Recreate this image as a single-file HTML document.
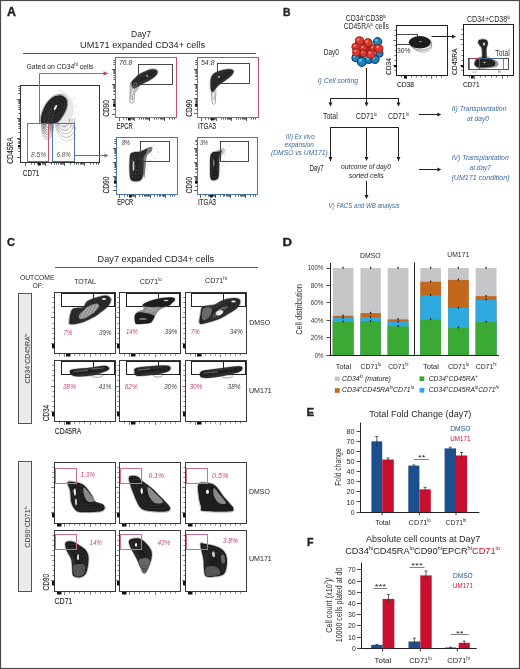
<!DOCTYPE html>
<html><head><meta charset="utf-8"><style>
html,body{margin:0;padding:0;background:#fff;}
body{width:520px;height:669px;overflow:hidden;}
svg{display:block;font-family:"Liberation Sans", sans-serif;filter:blur(0.35px);}
</style></head><body>
<svg width="520" height="669" viewBox="0 0 520 669">
<rect x="0" y="0" width="520" height="669" fill="#fff"/>
<text x="7" y="15.6" font-size="12" font-weight="bold" textLength="9" lengthAdjust="spacingAndGlyphs" fill="#231f20" stroke="#231f20" stroke-width="0.35" >A</text>
<text x="131" y="37" font-size="9.2" textLength="20" lengthAdjust="spacingAndGlyphs" fill="#231f20" >Day7</text>
<text x="80" y="48" font-size="9.2" textLength="125" lengthAdjust="spacingAndGlyphs" fill="#231f20" >UM171 expanded CD34+ cells</text>
<line x1="23" y1="53.5" x2="256" y2="53.5" stroke="#444" stroke-width="0.9"/>
<text x="26.5" y="69.2" font-size="7" textLength="67" lengthAdjust="spacingAndGlyphs" fill="#231f20" >Gated on CD34<tspan dy="-3" font-size="4.5">hi</tspan><tspan dy="3"> cells</tspan></text>
<rect x="20.5" y="85.5" width="79.0" height="77.0" fill="none" stroke="#333" stroke-width="1"/>
<path d="M17.0,157.5h3M18.4,151.5h1.6M18.4,148.5h1.6M18.4,145.5h1.6M18.4,143.5h1.6M18.4,142.5h1.6M18.4,141.5h1.6M18.4,139.5h1.6M18.4,139.5h1.6M17.0,138.5h3M18.4,132.5h1.6M18.4,128.5h1.6M18.4,126.5h1.6M18.4,124.5h1.6M18.4,123.5h1.6M18.4,121.5h1.6M18.4,120.5h1.6M18.4,119.5h1.6M17.0,118.5h3M18.4,113.5h1.6M18.4,109.5h1.6M18.4,107.5h1.6M18.4,105.5h1.6M18.4,103.5h1.6M18.4,102.5h1.6M18.4,101.5h1.6M18.4,100.5h1.6M17.0,99.5h3M18.4,93.5h1.6M18.4,90.5h1.6M18.4,88.5h1.6M18.4,86.5h1.6M25.5,163.0v3M31.5,163.0v1.6M34.5,163.0v1.6M37.5,163.0v1.6M39.5,163.0v1.6M40.5,163.0v1.6M42.5,163.0v1.6M43.5,163.0v1.6M44.5,163.0v1.6M45.5,163.0v3M51.5,163.0v1.6M54.5,163.0v1.6M56.5,163.0v1.6M58.5,163.0v1.6M60.5,163.0v1.6M61.5,163.0v1.6M62.5,163.0v1.6M63.5,163.0v1.6M64.5,163.0v3M70.5,163.0v1.6M74.5,163.0v1.6M76.5,163.0v1.6M78.5,163.0v1.6M80.5,163.0v1.6M81.5,163.0v1.6M82.5,163.0v1.6M83.5,163.0v1.6M84.5,163.0v3M90.5,163.0v1.6M93.5,163.0v1.6M96.5,163.0v1.6M98.5,163.0v1.6" fill="none" stroke="#333" stroke-width="0.8" />
<path d="M18.0,145h2.5v2.2h-2.5Z M38,163.0h2.7v2.5h-2.7Z" fill="#111" stroke="none" stroke-width="0.6" />
<circle cx="68" cy="96" r="0.6" fill="#aaa"/>
<circle cx="70" cy="100" r="0.6" fill="#aaa"/>
<circle cx="72" cy="104" r="0.6" fill="#aaa"/>
<circle cx="66" cy="93" r="0.6" fill="#aaa"/>
<circle cx="73" cy="110" r="0.6" fill="#aaa"/>
<circle cx="71" cy="115" r="0.6" fill="#aaa"/>
<circle cx="69" cy="120" r="0.6" fill="#aaa"/>
<circle cx="75" cy="118" r="0.6" fill="#aaa"/>
<circle cx="74" cy="99" r="0.6" fill="#aaa"/>
<circle cx="63" cy="92" r="0.6" fill="#aaa"/>
<circle cx="60" cy="90" r="0.6" fill="#aaa"/>
<circle cx="76" cy="106" r="0.6" fill="#aaa"/>
<circle cx="68" cy="124" r="0.6" fill="#aaa"/>
<circle cx="65" cy="128" r="0.6" fill="#aaa"/>
<circle cx="72" cy="126" r="0.6" fill="#aaa"/>
<circle cx="74" cy="122" r="0.6" fill="#aaa"/>
<circle cx="67" cy="110" r="0.6" fill="#aaa"/>
<circle cx="70" cy="108" r="0.6" fill="#aaa"/>
<path d="M58.00,96.00 C59.00,91.67 63.67,93.33 66.00,94.00 C68.33,94.67 70.67,97.33 72.00,100.00 C73.33,102.67 74.33,106.33 74.00,110.00 C73.67,113.67 71.67,119.00 70.00,122.00 C68.33,125.00 65.67,128.33 64.00,128.00 C62.33,127.67 61.00,125.33 60.00,120.00 C59.00,114.67 57.00,100.33 58.00,96.00 Z" fill="#e8e8e8" stroke="none" stroke-width="0.6" />
<clipPath id="cpA"><rect x="36" y="119" width="40" height="40"/></clipPath><g clip-path="url(#cpA)">
<ellipse cx="47.5" cy="124.5" rx="1.5" ry="3.0" fill="none" stroke="#333" stroke-width="0.5"/>
<ellipse cx="47.5" cy="124.8" rx="2.4" ry="5.1" fill="none" stroke="#333" stroke-width="0.5"/>
<ellipse cx="47.5" cy="125.1" rx="3.3" ry="7.2" fill="none" stroke="#333" stroke-width="0.5"/>
<ellipse cx="47.5" cy="125.4" rx="4.2" ry="9.3" fill="none" stroke="#333" stroke-width="0.5"/>
<ellipse cx="47.5" cy="125.7" rx="5.1" ry="11.4" fill="none" stroke="#666" stroke-width="0.5"/>
<ellipse cx="47.5" cy="126.0" rx="6.0" ry="13.5" fill="none" stroke="#666" stroke-width="0.5"/>
<ellipse cx="64.0" cy="118.0" rx="6.0" ry="9.0" fill="none" stroke="#556" stroke-width="0.5"/>
<ellipse cx="64.8" cy="118.3" rx="7.6" ry="12.2" fill="none" stroke="#556" stroke-width="0.5"/>
<ellipse cx="65.6" cy="118.6" rx="9.2" ry="15.4" fill="none" stroke="#778" stroke-width="0.5"/>
<ellipse cx="66.4" cy="118.9" rx="10.8" ry="18.6" fill="none" stroke="#778" stroke-width="0.5"/>
<ellipse cx="67.2" cy="119.2" rx="12.4" ry="21.8" fill="none" stroke="#aaa" stroke-width="0.5"/>
</g>
<path d="M40.32,123.09 C39.70,121.60 40.32,117.75 40.84,115.21 C41.37,112.67 42.33,110.22 43.47,107.86 C44.60,105.50 46.09,102.96 47.67,101.04 C49.24,99.11 51.03,97.41 52.92,96.31 C54.81,95.21 57.08,94.51 59.01,94.42 C60.93,94.33 63.07,94.95 64.47,95.79 C65.87,96.63 66.88,97.80 67.41,99.46 C67.93,101.12 67.93,103.66 67.62,105.76 C67.30,107.86 66.39,110.14 65.52,112.06 C64.64,113.99 63.42,115.74 62.37,117.31 C61.32,118.89 60.44,120.46 59.22,121.51 C57.99,122.56 56.59,123.17 55.02,123.61 C53.44,124.05 51.52,124.05 49.77,124.14 C48.02,124.22 46.09,124.31 44.52,124.14 C42.94,123.96 40.93,124.57 40.32,123.09 Z" fill="none" stroke="#555" stroke-width="0.5" />
<path d="M41.00,122.50 C40.42,121.08 41.00,117.42 41.50,115.00 C42.00,112.58 42.92,110.25 44.00,108.00 C45.08,105.75 46.50,103.33 48.00,101.50 C49.50,99.67 51.20,98.05 53.00,97.00 C54.80,95.95 56.97,95.28 58.80,95.20 C60.63,95.12 62.67,95.70 64.00,96.50 C65.33,97.30 66.30,98.42 66.80,100.00 C67.30,101.58 67.30,104.00 67.00,106.00 C66.70,108.00 65.83,110.17 65.00,112.00 C64.17,113.83 63.00,115.50 62.00,117.00 C61.00,118.50 60.17,120.00 59.00,121.00 C57.83,122.00 56.50,122.58 55.00,123.00 C53.50,123.42 51.67,123.42 50.00,123.50 C48.33,123.58 46.50,123.67 45.00,123.50 C43.50,123.33 41.58,123.92 41.00,122.50 Z" fill="#232122" stroke="none" stroke-width="0.6" />
<path d="M43.46,120.39 C42.98,119.23 43.46,116.22 43.87,114.24 C44.28,112.26 45.03,110.35 45.92,108.50 C46.81,106.66 47.97,104.67 49.20,103.17 C50.43,101.67 51.83,100.34 53.30,99.48 C54.78,98.62 56.55,98.07 58.06,98.00 C59.56,97.94 61.23,98.41 62.32,99.07 C63.41,99.73 64.21,100.64 64.62,101.94 C65.03,103.24 65.03,105.22 64.78,106.86 C64.54,108.50 63.82,110.28 63.14,111.78 C62.46,113.28 61.50,114.65 60.68,115.88 C59.86,117.11 59.18,118.34 58.22,119.16 C57.26,119.98 56.17,120.46 54.94,120.80 C53.71,121.14 52.21,121.14 50.84,121.21 C49.47,121.28 47.97,121.35 46.74,121.21 C45.51,121.07 43.94,121.55 43.46,120.39 Z" fill="none" stroke="#585858" stroke-width="0.35" />
<path d="M46.20,118.05 C45.83,117.17 46.20,114.89 46.51,113.40 C46.82,111.90 47.38,110.45 48.06,109.06 C48.73,107.66 49.61,106.16 50.54,105.03 C51.47,103.89 52.52,102.89 53.64,102.24 C54.75,101.59 56.10,101.17 57.23,101.12 C58.37,101.07 59.63,101.43 60.46,101.93 C61.28,102.42 61.88,103.11 62.19,104.10 C62.50,105.08 62.50,106.58 62.32,107.82 C62.13,109.06 61.59,110.40 61.08,111.54 C60.56,112.67 59.84,113.71 59.22,114.64 C58.60,115.57 58.08,116.50 57.36,117.12 C56.63,117.74 55.81,118.10 54.88,118.36 C53.95,118.61 52.81,118.61 51.78,118.67 C50.74,118.72 49.61,118.77 48.68,118.67 C47.75,118.56 46.56,118.92 46.20,118.05 Z" fill="none" stroke="#505050" stroke-width="0.35" />
<path d="M48.93,115.70 C48.69,115.11 48.93,113.57 49.14,112.55 C49.35,111.54 49.74,110.56 50.19,109.61 C50.65,108.67 51.24,107.65 51.87,106.88 C52.50,106.11 53.21,105.43 53.97,104.99 C54.73,104.55 55.64,104.27 56.41,104.24 C57.18,104.20 58.03,104.45 58.59,104.78 C59.15,105.12 59.56,105.59 59.77,106.25 C59.98,106.92 59.98,107.93 59.85,108.77 C59.72,109.61 59.36,110.52 59.01,111.29 C58.66,112.06 58.17,112.76 57.75,113.39 C57.33,114.02 56.98,114.65 56.49,115.07 C56.00,115.49 55.44,115.74 54.81,115.91 C54.18,116.09 53.41,116.09 52.71,116.12 C52.01,116.16 51.24,116.19 50.61,116.12 C49.98,116.05 49.18,116.30 48.93,115.70 Z" fill="none" stroke="#555" stroke-width="0.3" />
<ellipse cx="55.5" cy="107.5" rx="1.1" ry="2.8" transform="rotate(25 55.5 107.5)" fill="#fff"/>
<path d="M44.0,122.5 C45.0,117 48.0,112 52,108.0" fill="none" stroke="#666" stroke-width="0.4" />
<path d="M47.5,122.5 C48.5,117 51.5,111 55,106.5" fill="none" stroke="#666" stroke-width="0.4" />
<path d="M51.0,122.5 C52.0,117 55.0,110 58,105.0" fill="none" stroke="#666" stroke-width="0.4" />
<rect x="27.5" y="123.5" width="21.0" height="38.0" fill="none" stroke="#c4506f" stroke-width="1"/>
<rect x="52.5" y="123.5" width="22.0" height="38.0" fill="none" stroke="#4f77a4" stroke-width="1"/>
<text x="31" y="157.4" font-size="6.8" font-style="italic" textLength="15" lengthAdjust="spacingAndGlyphs" fill="#555" >8.5%</text>
<text x="56.5" y="157.4" font-size="6.8" font-style="italic" textLength="14.5" lengthAdjust="spacingAndGlyphs" fill="#555" >6.8%</text>
<polyline points="39.5,123 39.5,73.5 104,73.5" fill="none" stroke="#c4506f" stroke-width="1"/>
<path d="M108.5,73.5 L103.5,71.3 L103.5,75.7 Z" fill="#c4506f" stroke="none" stroke-width="0.6" />
<line x1="74.2" y1="155.5" x2="105.0" y2="155.5" stroke="#4f77a4" stroke-width="1"/>
<path d="M108.5,155.5 L104.5,153.5 L104.5,157.5 Z" fill="#4f77a4" stroke="none" stroke-width="0.6" />
<text transform="translate(12.6,163.8) rotate(-90)" font-size="9" textLength="26.5" lengthAdjust="spacingAndGlyphs" fill="#231f20" stroke="#231f20" stroke-width="0.1" >CD45RA</text>
<text x="22.8" y="176.3" font-size="9.5" textLength="16.6" lengthAdjust="spacingAndGlyphs" fill="#231f20" stroke="#231f20" stroke-width="0.1" >CD71</text>
<rect x="115.5" y="57.5" width="61.0" height="60.0" fill="none" stroke="#c4506f" stroke-width="1"/>
<path d="M112.0,114.5h3M113.4,109.5h1.6M113.4,106.5h1.6M113.4,105.5h1.6M113.4,103.5h1.6M113.4,102.5h1.6M113.4,101.5h1.6M113.4,100.5h1.6M113.4,99.5h1.6M112.0,99.5h3M113.4,94.5h1.6M113.4,91.5h1.6M113.4,90.5h1.6M113.4,88.5h1.6M113.4,87.5h1.6M113.4,86.5h1.6M113.4,85.5h1.6M113.4,84.5h1.6M112.0,84.5h3M113.4,79.5h1.6M113.4,77.5h1.6M113.4,75.5h1.6M113.4,73.5h1.6M113.4,72.5h1.6M113.4,71.5h1.6M113.4,70.5h1.6M113.4,69.5h1.6M112.0,69.5h3M113.4,64.5h1.6M113.4,62.5h1.6M113.4,60.5h1.6M119.5,118.0v3M123.5,118.0v1.6M126.5,118.0v1.6M128.5,118.0v1.6M129.5,118.0v1.6M131.5,118.0v1.6M132.5,118.0v1.6M133.5,118.0v1.6M133.5,118.0v1.6M134.5,118.0v3M139.5,118.0v1.6M141.5,118.0v1.6M143.5,118.0v1.6M145.5,118.0v1.6M146.5,118.0v1.6M147.5,118.0v1.6M148.5,118.0v1.6M149.5,118.0v1.6M149.5,118.0v3M154.5,118.0v1.6M156.5,118.0v1.6M158.5,118.0v1.6M160.5,118.0v1.6M161.5,118.0v1.6M162.5,118.0v1.6M163.5,118.0v1.6M164.5,118.0v1.6M164.5,118.0v3M169.5,118.0v1.6M172.5,118.0v1.6M174.5,118.0v1.6" fill="none" stroke="#333" stroke-width="0.8" />
<path d="M113.0,104h2.5v2.2h-2.5Z M128,118.0h2.7v2.5h-2.7Z" fill="#111" stroke="none" stroke-width="0.6" />
<path d="M130.50,84.00 C131.30,81.83 133.58,79.67 135.00,80.00 C136.42,80.33 139.08,83.67 139.00,86.00 C138.92,88.33 135.37,91.33 134.50,94.00 C133.63,96.67 134.55,100.67 133.80,102.00 C133.05,103.33 130.60,103.50 130.00,102.00 C129.40,100.50 130.12,96.00 130.20,93.00 C130.28,90.00 129.70,86.17 130.50,84.00 Z" fill="none" stroke="#444" stroke-width="0.5" />
<path d="M131.50,86.00 C132.05,84.50 133.58,82.83 134.50,83.00 C135.42,83.17 137.25,85.17 137.00,87.00 C136.75,88.83 133.73,91.83 133.00,94.00 C132.27,96.17 132.93,99.17 132.60,100.00 C132.27,100.83 131.23,100.33 131.00,99.00 C130.77,97.67 131.12,94.17 131.20,92.00 C131.28,89.83 130.95,87.50 131.50,86.00 Z" fill="none" stroke="#444" stroke-width="0.5" />
<path d="M132.50,88.00 C132.70,87.17 133.67,86.67 134.00,87.00 C134.33,87.33 134.70,89.17 134.50,90.00 C134.30,90.83 133.13,92.33 132.80,92.00 C132.47,91.67 132.30,88.83 132.50,88.00 Z" fill="none" stroke="#666" stroke-width="0.4" />
<path d="M131.54,86.30 C131.10,85.26 130.67,83.87 131.02,82.66 C131.36,81.45 132.32,80.41 133.62,79.02 C134.92,77.63 136.91,75.64 138.82,74.34 C140.72,73.04 142.89,72.12 145.06,71.22 C147.22,70.32 149.82,69.19 151.82,68.93 C153.81,68.67 155.98,69.11 157.02,69.66 C158.06,70.22 158.23,71.22 158.06,72.26 C157.88,73.30 157.28,74.60 155.98,75.90 C154.68,77.20 152.42,78.76 150.26,80.06 C148.09,81.36 145.23,82.49 142.98,83.70 C140.72,84.91 138.30,86.47 136.74,87.34 C135.18,88.21 134.48,89.07 133.62,88.90 C132.75,88.73 131.97,87.34 131.54,86.30 Z" fill="none" stroke="#555" stroke-width="0.45" />
<path d="M132.00,86.00 C131.58,85.00 131.17,83.67 131.50,82.50 C131.83,81.33 132.75,80.33 134.00,79.00 C135.25,77.67 137.17,75.75 139.00,74.50 C140.83,73.25 142.92,72.37 145.00,71.50 C147.08,70.63 149.58,69.55 151.50,69.30 C153.42,69.05 155.50,69.47 156.50,70.00 C157.50,70.53 157.67,71.50 157.50,72.50 C157.33,73.50 156.75,74.75 155.50,76.00 C154.25,77.25 152.08,78.75 150.00,80.00 C147.92,81.25 145.17,82.33 143.00,83.50 C140.83,84.67 138.50,86.17 137.00,87.00 C135.50,87.83 134.83,88.67 134.00,88.50 C133.17,88.33 132.42,87.00 132.00,86.00 Z" fill="#222" stroke="none" stroke-width="0.6" />
<path d="M134.08,84.65 C133.74,83.83 133.40,82.73 133.67,81.78 C133.95,80.82 134.70,80.00 135.72,78.91 C136.75,77.81 138.32,76.24 139.82,75.22 C141.33,74.19 143.04,73.47 144.74,72.76 C146.45,72.05 148.50,71.16 150.07,70.95 C151.65,70.75 153.35,71.09 154.17,71.53 C154.99,71.96 155.13,72.76 154.99,73.58 C154.86,74.40 154.38,75.42 153.35,76.45 C152.33,77.47 150.55,78.70 148.84,79.73 C147.14,80.75 144.88,81.64 143.10,82.60 C141.33,83.55 139.41,84.78 138.18,85.47 C136.95,86.15 136.41,86.83 135.72,86.70 C135.04,86.56 134.43,85.47 134.08,84.65 Z" fill="none" stroke="#585858" stroke-width="0.35" />
<path d="M136.40,83.14 C136.14,82.52 135.88,81.70 136.09,80.97 C136.30,80.25 136.86,79.63 137.64,78.80 C138.41,77.98 139.60,76.79 140.74,76.01 C141.88,75.24 143.17,74.69 144.46,74.15 C145.75,73.62 147.30,72.95 148.49,72.79 C149.68,72.64 150.97,72.89 151.59,73.22 C152.21,73.55 152.31,74.15 152.21,74.77 C152.11,75.39 151.74,76.17 150.97,76.94 C150.19,77.72 148.85,78.65 147.56,79.42 C146.27,80.20 144.56,80.87 143.22,81.59 C141.88,82.32 140.43,83.25 139.50,83.76 C138.57,84.28 138.16,84.80 137.64,84.69 C137.12,84.59 136.66,83.76 136.40,83.14 Z" fill="none" stroke="#505050" stroke-width="0.35" />
<path d="M138.71,81.64 C138.54,81.22 138.36,80.66 138.50,80.17 C138.64,79.68 139.03,79.26 139.55,78.70 C140.08,78.14 140.88,77.34 141.65,76.81 C142.42,76.29 143.30,75.92 144.17,75.55 C145.05,75.19 146.10,74.73 146.90,74.63 C147.71,74.52 148.58,74.70 149.00,74.92 C149.42,75.15 149.49,75.55 149.42,75.97 C149.35,76.39 149.11,76.92 148.58,77.44 C148.06,77.97 147.15,78.60 146.27,79.12 C145.40,79.65 144.24,80.10 143.33,80.59 C142.42,81.08 141.44,81.71 140.81,82.06 C140.18,82.41 139.90,82.76 139.55,82.69 C139.20,82.62 138.89,82.06 138.71,81.64 Z" fill="none" stroke="#555" stroke-width="0.3" />
<ellipse cx="147" cy="76" rx="1.1" ry="0.7" fill="#ccc"/>
<path d="M133.00,86.00 C133.00,85.33 134.33,83.33 135.00,83.00 C135.67,82.67 137.00,83.33 137.00,84.00 C137.00,84.67 135.67,86.67 135.00,87.00 C134.33,87.33 133.00,86.67 133.00,86.00 Z" fill="none" stroke="#ddd" stroke-width="0.4" />
<rect x="138.5" y="64.5" width="34.0" height="20.0" fill="none" stroke="#333" stroke-width="0.9"/>
<text x="119" y="64.5" font-size="6.8" font-style="italic" textLength="13.3" lengthAdjust="spacingAndGlyphs" fill="#333" >76.8</text>
<text transform="translate(109.1,116.8) rotate(-90)" font-size="9.2" textLength="16.6" lengthAdjust="spacingAndGlyphs" fill="#231f20" stroke="#231f20" stroke-width="0.1" >CD90</text>
<text x="116.5" y="128.7" font-size="9.2" textLength="16.2" lengthAdjust="spacingAndGlyphs" fill="#231f20" stroke="#231f20" stroke-width="0.1" >EPCR</text>
<rect x="197.5" y="57.5" width="61.0" height="60.0" fill="none" stroke="#c4506f" stroke-width="1"/>
<path d="M194.0,113.5h3M195.4,109.5h1.6M195.4,106.5h1.6M195.4,104.5h1.6M195.4,103.5h1.6M195.4,102.5h1.6M195.4,101.5h1.6M195.4,100.5h1.6M195.4,99.5h1.6M194.0,98.5h3M195.4,94.5h1.6M195.4,91.5h1.6M195.4,90.5h1.6M195.4,88.5h1.6M195.4,87.5h1.6M195.4,86.5h1.6M195.4,85.5h1.6M195.4,84.5h1.6M194.0,84.5h3M195.4,79.5h1.6M195.4,76.5h1.6M195.4,75.5h1.6M195.4,73.5h1.6M195.4,72.5h1.6M195.4,71.5h1.6M195.4,70.5h1.6M195.4,69.5h1.6M194.0,69.5h3M195.4,64.5h1.6M195.4,62.5h1.6M195.4,60.5h1.6M201.5,118.0v3M205.5,118.0v1.6M208.5,118.0v1.6M210.5,118.0v1.6M211.5,118.0v1.6M213.5,118.0v1.6M214.5,118.0v1.6M214.5,118.0v1.6M215.5,118.0v1.6M216.5,118.0v3M221.5,118.0v1.6M223.5,118.0v1.6M225.5,118.0v1.6M227.5,118.0v1.6M228.5,118.0v1.6M229.5,118.0v1.6M230.5,118.0v1.6M230.5,118.0v1.6M231.5,118.0v3M236.5,118.0v1.6M238.5,118.0v1.6M240.5,118.0v1.6M242.5,118.0v1.6M243.5,118.0v1.6M244.5,118.0v1.6M245.5,118.0v1.6M246.5,118.0v1.6M246.5,118.0v3M251.5,118.0v1.6M253.5,118.0v1.6M255.5,118.0v1.6" fill="none" stroke="#333" stroke-width="0.8" />
<path d="M195.0,104h2.5v2.2h-2.5Z M211,118.0h2.7v2.5h-2.7Z" fill="#111" stroke="none" stroke-width="0.6" />
<path d="M211.50,90.00 C212.12,88.67 214.83,87.67 215.50,89.00 C216.17,90.33 215.58,95.58 215.50,98.00 C215.42,100.42 215.50,102.58 215.00,103.50 C214.50,104.42 213.03,104.58 212.50,103.50 C211.97,102.42 211.97,99.25 211.80,97.00 C211.63,94.75 210.88,91.33 211.50,90.00 Z" fill="none" stroke="#444" stroke-width="0.5" />
<path d="M212.60,92.00 C212.82,90.83 214.22,90.83 214.50,92.00 C214.78,93.17 214.52,97.83 214.30,99.00 C214.08,100.17 213.48,100.17 213.20,99.00 C212.92,97.83 212.38,93.17 212.60,92.00 Z" fill="none" stroke="#777" stroke-width="0.4" />
<path d="M210.12,85.22 C210.09,83.31 210.00,80.80 210.43,78.98 C210.87,77.16 211.47,75.60 212.72,74.30 C213.97,73.00 215.67,72.05 217.92,71.18 C220.18,70.31 223.82,69.40 226.24,69.10 C228.67,68.81 231.18,69.01 232.48,69.41 C233.78,69.81 234.13,70.51 234.04,71.49 C233.96,72.48 233.26,73.92 231.96,75.34 C230.66,76.76 228.41,78.37 226.24,80.02 C224.08,81.67 220.87,83.57 218.96,85.22 C217.06,86.87 215.84,88.69 214.80,89.90 C213.76,91.11 213.42,92.41 212.72,92.50 C212.03,92.59 211.08,91.63 210.64,90.42 C210.21,89.21 210.16,87.13 210.12,85.22 Z" fill="none" stroke="#555" stroke-width="0.45" />
<path d="M210.50,85.00 C210.47,83.17 210.38,80.75 210.80,79.00 C211.22,77.25 211.80,75.75 213.00,74.50 C214.20,73.25 215.83,72.33 218.00,71.50 C220.17,70.67 223.67,69.78 226.00,69.50 C228.33,69.22 230.75,69.42 232.00,69.80 C233.25,70.18 233.58,70.85 233.50,71.80 C233.42,72.75 232.75,74.13 231.50,75.50 C230.25,76.87 228.08,78.42 226.00,80.00 C223.92,81.58 220.83,83.42 219.00,85.00 C217.17,86.58 216.00,88.33 215.00,89.50 C214.00,90.67 213.67,91.92 213.00,92.00 C212.33,92.08 211.42,91.17 211.00,90.00 C210.58,88.83 210.53,86.83 210.50,85.00 Z" fill="#222" stroke="none" stroke-width="0.6" />
<path d="M212.20,84.00 C212.17,82.50 212.10,80.52 212.45,79.08 C212.79,77.65 213.27,76.42 214.25,75.39 C215.23,74.37 216.57,73.62 218.35,72.93 C220.13,72.25 223.00,71.53 224.91,71.29 C226.82,71.06 228.81,71.23 229.83,71.54 C230.86,71.85 231.13,72.40 231.06,73.18 C230.99,73.96 230.45,75.09 229.42,76.21 C228.40,77.34 226.62,78.61 224.91,79.90 C223.20,81.20 220.67,82.71 219.17,84.00 C217.67,85.30 216.71,86.74 215.89,87.69 C215.07,88.65 214.80,89.68 214.25,89.74 C213.70,89.81 212.95,89.06 212.61,88.10 C212.27,87.15 212.23,85.51 212.20,84.00 Z" fill="none" stroke="#585858" stroke-width="0.35" />
<path d="M214.09,82.90 C214.07,81.76 214.02,80.26 214.28,79.18 C214.53,78.09 214.90,77.16 215.64,76.39 C216.38,75.61 217.40,75.04 218.74,74.53 C220.08,74.01 222.25,73.46 223.70,73.29 C225.15,73.11 226.64,73.24 227.42,73.47 C228.19,73.71 228.40,74.13 228.35,74.71 C228.30,75.30 227.88,76.16 227.11,77.01 C226.33,77.86 224.99,78.82 223.70,79.80 C222.41,80.78 220.50,81.92 219.36,82.90 C218.22,83.88 217.50,84.96 216.88,85.69 C216.26,86.41 216.05,87.19 215.64,87.24 C215.23,87.29 214.66,86.72 214.40,86.00 C214.14,85.27 214.11,84.03 214.09,82.90 Z" fill="none" stroke="#505050" stroke-width="0.35" />
<path d="M215.98,81.79 C215.96,81.02 215.93,80.01 216.10,79.27 C216.28,78.54 216.52,77.91 217.03,77.38 C217.53,76.86 218.22,76.47 219.13,76.12 C220.04,75.77 221.51,75.40 222.49,75.28 C223.47,75.16 224.48,75.25 225.01,75.41 C225.53,75.57 225.67,75.85 225.64,76.25 C225.60,76.65 225.32,77.23 224.80,77.80 C224.27,78.38 223.36,79.03 222.49,79.69 C221.61,80.36 220.32,81.13 219.55,81.79 C218.78,82.46 218.29,83.19 217.87,83.68 C217.45,84.17 217.31,84.70 217.03,84.73 C216.75,84.77 216.36,84.38 216.19,83.89 C216.01,83.40 215.99,82.56 215.98,81.79 Z" fill="none" stroke="#555" stroke-width="0.3" />
<ellipse cx="219" cy="77" rx="1.2" ry="0.7" fill="#ddd"/>
<rect x="217.5" y="63.5" width="32.0" height="20.0" fill="none" stroke="#333" stroke-width="0.9"/>
<text x="201" y="64.7" font-size="6.8" font-style="italic" textLength="13.5" lengthAdjust="spacingAndGlyphs" fill="#333" >54.8</text>
<text transform="translate(191.6,116.8) rotate(-90)" font-size="9.2" textLength="17" lengthAdjust="spacingAndGlyphs" fill="#231f20" stroke="#231f20" stroke-width="0.1" >CD90</text>
<text x="198.1" y="128.7" font-size="9.2" textLength="17.9" lengthAdjust="spacingAndGlyphs" fill="#231f20" stroke="#231f20" stroke-width="0.1" >ITGA3</text>
<rect x="116.5" y="137.5" width="61.0" height="57.0" fill="none" stroke="#4f77a4" stroke-width="1"/>
<path d="M113.0,190.5h3M114.4,186.5h1.6M114.4,183.5h1.6M114.4,182.5h1.6M114.4,180.5h1.6M114.4,179.5h1.6M114.4,178.5h1.6M114.4,177.5h1.6M114.4,177.5h1.6M113.0,176.5h3M114.4,172.5h1.6M114.4,169.5h1.6M114.4,167.5h1.6M114.4,166.5h1.6M114.4,165.5h1.6M114.4,164.5h1.6M114.4,163.5h1.6M114.4,162.5h1.6M113.0,162.5h3M114.4,158.5h1.6M114.4,155.5h1.6M114.4,153.5h1.6M114.4,152.5h1.6M114.4,151.5h1.6M114.4,150.5h1.6M114.4,149.5h1.6M114.4,148.5h1.6M113.0,148.5h3M114.4,143.5h1.6M114.4,141.5h1.6M114.4,139.5h1.6M119.5,195.0v3M124.5,195.0v1.6M127.5,195.0v1.6M129.5,195.0v1.6M130.5,195.0v1.6M131.5,195.0v1.6M132.5,195.0v1.6M133.5,195.0v1.6M134.5,195.0v1.6M135.5,195.0v3M139.5,195.0v1.6M142.5,195.0v1.6M144.5,195.0v1.6M145.5,195.0v1.6M146.5,195.0v1.6M147.5,195.0v1.6M148.5,195.0v1.6M149.5,195.0v1.6M150.5,195.0v3M154.5,195.0v1.6M157.5,195.0v1.6M159.5,195.0v1.6M160.5,195.0v1.6M162.5,195.0v1.6M163.5,195.0v1.6M163.5,195.0v1.6M164.5,195.0v1.6M165.5,195.0v3M170.5,195.0v1.6M172.5,195.0v1.6M174.5,195.0v1.6" fill="none" stroke="#333" stroke-width="0.8" />
<path d="M114.0,181h2.5v2.2h-2.5Z M129,195.0h2.7v2.5h-2.7Z" fill="#111" stroke="none" stroke-width="0.6" />
<circle cx="154" cy="146" r="0.55" fill="#aaa"/>
<circle cx="156" cy="149" r="0.55" fill="#aaa"/>
<circle cx="152" cy="155" r="0.55" fill="#aaa"/>
<circle cx="150" cy="160" r="0.55" fill="#aaa"/>
<circle cx="155" cy="158" r="0.55" fill="#aaa"/>
<circle cx="148" cy="165" r="0.55" fill="#aaa"/>
<circle cx="147" cy="170" r="0.55" fill="#aaa"/>
<circle cx="158" cy="152" r="0.55" fill="#aaa"/>
<circle cx="146" cy="176" r="0.55" fill="#aaa"/>
<path d="M140.00,153.00 C140.83,151.08 144.00,149.50 146.00,148.50 C148.00,147.50 151.08,146.50 152.00,147.00 C152.92,147.50 152.33,150.00 151.50,151.50 C150.67,153.00 148.00,153.25 147.00,156.00 C146.00,158.75 146.00,164.33 145.50,168.00 C145.00,171.67 144.75,179.33 144.00,178.00 C143.25,176.67 141.67,164.17 141.00,160.00 C140.33,155.83 139.17,154.92 140.00,153.00 Z" fill="#7a7a7a" stroke="none" stroke-width="0.6" />
<path d="M129.45,159.91 C129.60,157.44 129.61,154.92 130.27,153.73 C130.94,152.54 132.56,152.32 133.88,151.98 C135.19,151.64 137.48,151.74 139.03,151.46 C140.57,151.18 142.94,150.56 144.18,150.12 C145.41,149.69 146.96,148.19 147.27,148.58 C147.58,148.96 146.78,151.31 146.24,152.70 C145.70,154.09 144.08,155.84 143.66,157.85 C143.25,159.86 143.61,163.15 143.46,166.09 C143.30,169.02 143.22,175.13 142.63,177.42 C142.05,179.71 140.86,180.68 139.54,181.33 C138.23,181.98 135.27,182.02 133.88,181.74 C132.49,181.47 130.97,181.21 130.27,179.48 C129.58,177.75 129.37,173.14 129.24,170.21 C129.12,167.27 129.29,162.38 129.45,159.91 Z" fill="none" stroke="#555" stroke-width="0.4" />
<path d="M129.70,160.00 C129.85,157.60 129.85,155.16 130.50,154.00 C131.15,152.84 132.72,152.63 134.00,152.30 C135.28,151.97 137.50,152.07 139.00,151.80 C140.50,151.53 142.80,150.92 144.00,150.50 C145.20,150.08 146.70,148.62 147.00,149.00 C147.30,149.38 146.53,151.65 146.00,153.00 C145.47,154.35 143.91,156.05 143.50,158.00 C143.09,159.95 143.45,163.15 143.30,166.00 C143.15,168.85 143.07,174.78 142.50,177.00 C141.93,179.22 140.78,180.17 139.50,180.80 C138.22,181.43 135.35,181.47 134.00,181.20 C132.65,180.93 131.18,180.68 130.50,179.00 C129.82,177.32 129.62,172.85 129.50,170.00 C129.38,167.15 129.55,162.40 129.70,160.00 Z" fill="#222" stroke="none" stroke-width="0.6" />
<path d="M131.21,160.55 C131.33,158.58 131.33,156.57 131.86,155.63 C132.39,154.68 133.69,154.50 134.73,154.23 C135.78,153.96 137.60,154.05 138.83,153.82 C140.06,153.60 141.95,153.10 142.93,152.76 C143.92,152.41 145.15,151.22 145.39,151.53 C145.64,151.84 145.00,153.70 144.57,154.81 C144.14,155.91 142.85,157.31 142.52,158.91 C142.19,160.51 142.48,163.13 142.36,165.47 C142.24,167.80 142.17,172.67 141.70,174.49 C141.24,176.31 140.29,177.09 139.24,177.60 C138.20,178.12 135.84,178.15 134.73,177.93 C133.63,177.71 132.42,177.51 131.86,176.13 C131.31,174.75 131.14,171.08 131.04,168.75 C130.94,166.41 131.08,162.52 131.21,160.55 Z" fill="none" stroke="#585858" stroke-width="0.35" />
<path d="M132.88,161.16 C132.97,159.67 132.98,158.15 133.38,157.44 C133.78,156.72 134.76,156.59 135.55,156.38 C136.34,156.18 137.72,156.24 138.65,156.07 C139.58,155.90 141.00,155.53 141.75,155.27 C142.49,155.01 143.42,154.10 143.61,154.34 C143.79,154.57 143.31,155.98 142.99,156.82 C142.66,157.65 141.69,158.71 141.44,159.92 C141.19,161.13 141.41,163.11 141.31,164.88 C141.22,166.64 141.17,170.32 140.82,171.70 C140.46,173.07 139.75,173.66 138.96,174.05 C138.17,174.44 136.38,174.47 135.55,174.30 C134.71,174.13 133.80,173.98 133.38,172.94 C132.96,171.89 132.83,169.12 132.76,167.36 C132.68,165.59 132.79,162.64 132.88,161.16 Z" fill="none" stroke="#505050" stroke-width="0.35" />
<path d="M134.56,161.76 C134.62,160.76 134.62,159.73 134.89,159.24 C135.16,158.76 135.83,158.67 136.36,158.53 C136.90,158.39 137.83,158.43 138.46,158.32 C139.09,158.21 140.06,157.95 140.56,157.77 C141.07,157.60 141.70,156.99 141.82,157.14 C141.95,157.30 141.62,158.26 141.40,158.82 C141.18,159.39 140.52,160.11 140.35,160.92 C140.18,161.74 140.33,163.09 140.27,164.28 C140.20,165.48 140.17,167.97 139.93,168.90 C139.69,169.84 139.21,170.24 138.67,170.50 C138.14,170.77 136.93,170.78 136.36,170.67 C135.79,170.56 135.17,170.45 134.89,169.74 C134.61,169.04 134.52,167.16 134.47,165.96 C134.42,164.77 134.49,162.77 134.56,161.76 Z" fill="none" stroke="#555" stroke-width="0.3" />
<line x1="132.5" y1="157" x2="132.5" y2="177" stroke="#777" stroke-width="0.45" stroke-dasharray="1.2 1.5"/>
<line x1="135.8" y1="158" x2="135.8" y2="176" stroke="#777" stroke-width="0.45" stroke-dasharray="1.2 1.5"/>
<line x1="139.1" y1="159" x2="139.1" y2="175" stroke="#777" stroke-width="0.45" stroke-dasharray="1.2 1.5"/>
<ellipse cx="133.5" cy="166" rx="0.8" ry="5" fill="#ccc"/>
<rect x="140.5" y="141.5" width="29.0" height="20.0" fill="none" stroke="#333" stroke-width="0.9"/>
<text x="122" y="144.8" font-size="7" font-style="italic" textLength="7.8" lengthAdjust="spacingAndGlyphs" fill="#333" >8%</text>
<text transform="translate(108.6,193.4) rotate(-90)" font-size="9.2" textLength="16.8" lengthAdjust="spacingAndGlyphs" fill="#231f20" stroke="#231f20" stroke-width="0.1" >CD90</text>
<text x="117.3" y="205.3" font-size="9.2" textLength="15.8" lengthAdjust="spacingAndGlyphs" fill="#231f20" stroke="#231f20" stroke-width="0.1" >EPCR</text>
<rect x="197.5" y="137.5" width="60.0" height="57.0" fill="none" stroke="#4f77a4" stroke-width="1"/>
<path d="M194.0,190.5h3M195.4,186.5h1.6M195.4,183.5h1.6M195.4,182.5h1.6M195.4,180.5h1.6M195.4,179.5h1.6M195.4,178.5h1.6M195.4,177.5h1.6M195.4,177.5h1.6M194.0,176.5h3M195.4,172.5h1.6M195.4,169.5h1.6M195.4,168.5h1.6M195.4,166.5h1.6M195.4,165.5h1.6M195.4,164.5h1.6M195.4,163.5h1.6M195.4,163.5h1.6M194.0,162.5h3M195.4,158.5h1.6M195.4,155.5h1.6M195.4,154.5h1.6M195.4,152.5h1.6M195.4,151.5h1.6M195.4,150.5h1.6M195.4,149.5h1.6M195.4,149.5h1.6M194.0,148.5h3M195.4,144.5h1.6M195.4,141.5h1.6M195.4,140.5h1.6M200.5,195.0v3M205.5,195.0v1.6M208.5,195.0v1.6M209.5,195.0v1.6M211.5,195.0v1.6M212.5,195.0v1.6M213.5,195.0v1.6M214.5,195.0v1.6M215.5,195.0v1.6M215.5,195.0v3M220.5,195.0v1.6M223.5,195.0v1.6M224.5,195.0v1.6M226.5,195.0v1.6M227.5,195.0v1.6M228.5,195.0v1.6M229.5,195.0v1.6M230.5,195.0v1.6M230.5,195.0v3M235.5,195.0v1.6M238.5,195.0v1.6M240.5,195.0v1.6M241.5,195.0v1.6M242.5,195.0v1.6M243.5,195.0v1.6M244.5,195.0v1.6M245.5,195.0v1.6M245.5,195.0v3M250.5,195.0v1.6M253.5,195.0v1.6M255.5,195.0v1.6" fill="none" stroke="#333" stroke-width="0.8" />
<path d="M195.0,181h2.5v2.2h-2.5Z M210,195.0h2.7v2.5h-2.7Z" fill="#111" stroke="none" stroke-width="0.6" />
<circle cx="223" cy="148" r="0.55" fill="#b0b0b0"/>
<circle cx="226" cy="150" r="0.55" fill="#b0b0b0"/>
<circle cx="229" cy="146" r="0.55" fill="#b0b0b0"/>
<circle cx="222" cy="153" r="0.55" fill="#b0b0b0"/>
<circle cx="225" cy="155" r="0.55" fill="#b0b0b0"/>
<circle cx="231" cy="151" r="0.55" fill="#b0b0b0"/>
<circle cx="224" cy="160" r="0.55" fill="#b0b0b0"/>
<circle cx="222" cy="166" r="0.55" fill="#b0b0b0"/>
<circle cx="227" cy="163" r="0.55" fill="#b0b0b0"/>
<circle cx="221" cy="172" r="0.55" fill="#b0b0b0"/>
<path d="M216.00,152.00 C216.00,149.83 218.67,149.58 220.00,149.00 C221.33,148.42 223.17,148.00 224.00,148.50 C224.83,149.00 225.33,150.75 225.00,152.00 C224.67,153.25 222.83,154.33 222.00,156.00 C221.17,157.67 221.00,162.67 220.00,162.00 C219.00,161.33 216.00,154.17 216.00,152.00 Z" fill="#c8c8c8" stroke="none" stroke-width="0.6" />
<path d="M209.82,165.06 C209.82,161.82 209.75,157.73 210.13,155.79 C210.52,153.86 211.52,152.84 212.40,152.19 C213.28,151.54 214.92,151.62 216.00,151.47 C217.09,151.31 218.84,151.36 219.61,151.16 C220.38,150.96 220.84,150.05 221.15,150.13 C221.46,150.21 221.90,150.82 221.67,151.67 C221.44,152.52 219.96,153.32 219.61,155.79 C219.25,158.27 219.44,164.91 219.30,168.15 C219.16,171.40 219.18,175.60 218.68,177.42 C218.19,179.25 217.02,179.84 216.00,180.31 C214.98,180.77 212.76,180.95 211.88,180.51 C211.00,180.08 210.44,179.74 210.13,177.42 C209.82,175.11 209.82,168.31 209.82,165.06 Z" fill="none" stroke="#555" stroke-width="0.4" />
<path d="M210.00,165.00 C210.00,161.85 209.93,157.88 210.30,156.00 C210.68,154.12 211.65,153.13 212.50,152.50 C213.35,151.87 214.95,151.95 216.00,151.80 C217.05,151.65 218.75,151.69 219.50,151.50 C220.25,151.31 220.70,150.43 221.00,150.50 C221.30,150.57 221.72,151.18 221.50,152.00 C221.28,152.82 219.84,153.60 219.50,156.00 C219.16,158.40 219.33,164.85 219.20,168.00 C219.06,171.15 219.08,175.23 218.60,177.00 C218.12,178.77 216.99,179.35 216.00,179.80 C215.01,180.25 212.85,180.42 212.00,180.00 C211.15,179.58 210.60,179.25 210.30,177.00 C210.00,174.75 210.00,168.15 210.00,165.00 Z" fill="#1e1c1d" stroke="none" stroke-width="0.6" />
<path d="M211.06,164.61 C211.06,162.03 211.00,158.77 211.30,157.23 C211.61,155.70 212.41,154.88 213.11,154.36 C213.81,153.85 215.12,153.91 215.98,153.79 C216.84,153.67 218.23,153.70 218.85,153.54 C219.46,153.38 219.83,152.66 220.08,152.72 C220.32,152.79 220.67,153.28 220.49,153.95 C220.30,154.63 219.13,155.27 218.85,157.23 C218.56,159.20 218.71,164.49 218.60,167.07 C218.49,169.66 218.50,173.00 218.11,174.45 C217.72,175.91 216.79,176.38 215.98,176.75 C215.17,177.12 213.40,177.26 212.70,176.91 C212.00,176.57 211.55,176.30 211.30,174.45 C211.06,172.61 211.06,167.20 211.06,164.61 Z" fill="none" stroke="#585858" stroke-width="0.35" />
<path d="M212.23,164.18 C212.23,162.23 212.19,159.77 212.42,158.60 C212.65,157.44 213.25,156.83 213.78,156.43 C214.31,156.04 215.30,156.09 215.95,156.00 C216.60,155.91 217.66,155.94 218.12,155.81 C218.59,155.69 218.87,155.15 219.05,155.19 C219.24,155.24 219.50,155.61 219.36,156.12 C219.22,156.64 218.34,157.12 218.12,158.60 C217.91,160.09 218.02,164.09 217.94,166.04 C217.85,168.00 217.86,170.53 217.57,171.62 C217.27,172.72 216.57,173.08 215.95,173.36 C215.34,173.64 214.00,173.74 213.47,173.48 C212.94,173.22 212.61,173.02 212.42,171.62 C212.23,170.23 212.23,166.14 212.23,164.18 Z" fill="none" stroke="#505050" stroke-width="0.35" />
<path d="M213.41,163.76 C213.41,162.43 213.38,160.76 213.53,159.98 C213.69,159.19 214.10,158.77 214.46,158.51 C214.82,158.24 215.49,158.27 215.93,158.21 C216.37,158.15 217.08,158.17 217.40,158.09 C217.71,158.00 217.90,157.63 218.03,157.67 C218.15,157.70 218.33,157.95 218.24,158.30 C218.14,158.64 217.54,158.97 217.40,159.98 C217.25,160.98 217.33,163.69 217.27,165.02 C217.22,166.34 217.22,168.05 217.02,168.80 C216.82,169.54 216.34,169.78 215.93,169.97 C215.51,170.16 214.61,170.23 214.25,170.06 C213.89,169.88 213.66,169.74 213.53,168.80 C213.41,167.85 213.41,165.08 213.41,163.76 Z" fill="none" stroke="#555" stroke-width="0.3" />
<ellipse cx="213.8" cy="163" rx="0.6" ry="3.5" fill="#999"/>
<rect x="220.5" y="141.5" width="28.0" height="20.0" fill="none" stroke="#333" stroke-width="0.9"/>
<text x="200" y="144.7" font-size="7" font-style="italic" textLength="7.8" lengthAdjust="spacingAndGlyphs" fill="#333" >3%</text>
<text transform="translate(192.1,193.4) rotate(-90)" font-size="9.2" textLength="16.6" lengthAdjust="spacingAndGlyphs" fill="#231f20" stroke="#231f20" stroke-width="0.1" >CD90</text>
<text x="198.1" y="205.3" font-size="9.2" textLength="17.9" lengthAdjust="spacingAndGlyphs" fill="#231f20" stroke="#231f20" stroke-width="0.1" >ITGA3</text>
<text x="283" y="15.5" font-size="11.5" font-weight="bold" textLength="7.5" lengthAdjust="spacingAndGlyphs" fill="#231f20" stroke="#231f20" stroke-width="0.35" >B</text>
<text x="345.8" y="20.5" font-size="8.6" textLength="40" lengthAdjust="spacingAndGlyphs" fill="#231f20" >CD34<tspan dy="-3" font-size="4.5">+</tspan><tspan dy="3">CD38<tspan dy="-3" font-size="4.5">lo</tspan><tspan dy="3"></tspan></tspan></text>
<text x="343.8" y="28.5" font-size="8.6" textLength="45" lengthAdjust="spacingAndGlyphs" fill="#231f20" >CD45RA<tspan dy="-3" font-size="4.5">lo</tspan><tspan dy="3"> cells</tspan></text>
<text x="323.8" y="54.8" font-size="8.2" textLength="15.2" lengthAdjust="spacingAndGlyphs" fill="#231f20" >Day0</text>
<circle cx="367" cy="48.5" r="7" fill="#b52a20"/>
<circle cx="360" cy="55" r="5" fill="#0d4f8a"/>
<circle cx="355.7" cy="57.8" r="3.9" fill="#1785bb" stroke="#0a2f66" stroke-width="1"/>
<circle cx="354.5" cy="56.4" r="1.2" fill="#6cc8ec"/>
<circle cx="361.8" cy="61.8" r="4.6" fill="#1785bb" stroke="#0a2f66" stroke-width="1"/>
<circle cx="360.4" cy="60.2" r="1.5" fill="#6cc8ec"/>
<circle cx="368.8" cy="59.9" r="3.6" fill="#1785bb" stroke="#0a2f66" stroke-width="1"/>
<circle cx="367.7" cy="58.6" r="1.2" fill="#6cc8ec"/>
<circle cx="375" cy="59.3" r="4.1" fill="#1785bb" stroke="#0a2f66" stroke-width="1"/>
<circle cx="373.8" cy="57.9" r="1.3" fill="#6cc8ec"/>
<circle cx="379.5" cy="53.5" r="3.6" fill="#1785bb" stroke="#0a2f66" stroke-width="1"/>
<circle cx="378.4" cy="52.2" r="1.2" fill="#6cc8ec"/>
<circle cx="377.6" cy="41.8" r="4.2" fill="#1785bb" stroke="#0a2f66" stroke-width="1"/>
<circle cx="376.3" cy="40.3" r="1.3" fill="#6cc8ec"/>
<circle cx="359.5" cy="40.9" r="4.1" fill="#dc3a2c" stroke="#8e1812" stroke-width="0.9"/>
<circle cx="358.3" cy="39.5" r="1.2" fill="#f3887a"/>
<circle cx="368" cy="42.8" r="4.1" fill="#dc3a2c" stroke="#8e1812" stroke-width="0.9"/>
<circle cx="366.8" cy="41.4" r="1.2" fill="#f3887a"/>
<circle cx="355.7" cy="47" r="3.9" fill="#dc3a2c" stroke="#8e1812" stroke-width="0.9"/>
<circle cx="354.5" cy="45.6" r="1.2" fill="#f3887a"/>
<circle cx="363.4" cy="48.2" r="3.6" fill="#dc3a2c" stroke="#8e1812" stroke-width="0.9"/>
<circle cx="362.3" cy="46.9" r="1.1" fill="#f3887a"/>
<circle cx="373.4" cy="48.5" r="3.6" fill="#dc3a2c" stroke="#8e1812" stroke-width="0.9"/>
<circle cx="372.3" cy="47.2" r="1.1" fill="#f3887a"/>
<circle cx="378.8" cy="48.5" r="4.2" fill="#dc3a2c" stroke="#8e1812" stroke-width="0.9"/>
<circle cx="377.5" cy="47.0" r="1.3" fill="#f3887a"/>
<circle cx="356.5" cy="52.3" r="4.0" fill="#dc3a2c" stroke="#8e1812" stroke-width="0.9"/>
<circle cx="355.3" cy="50.9" r="1.2" fill="#f3887a"/>
<circle cx="363.4" cy="53.4" r="3.6" fill="#dc3a2c" stroke="#8e1812" stroke-width="0.9"/>
<circle cx="362.3" cy="52.1" r="1.1" fill="#f3887a"/>
<circle cx="371" cy="54.2" r="4.1" fill="#dc3a2c" stroke="#8e1812" stroke-width="0.9"/>
<circle cx="369.8" cy="52.8" r="1.2" fill="#f3887a"/>
<rect x="396.5" y="25.5" width="51.0" height="50.0" fill="none" stroke="#231f20" stroke-width="1"/>
<path d="M394.4,70.5h1.6M393.0,65.5h3M394.4,60.5h1.6M394.4,55.5h1.6M394.4,50.5h1.6M394.4,45.5h1.6M393.0,40.5h3M394.4,35.5h1.6M394.4,30.5h1.6M401.5,76.0v1.6M406.5,76.0v3M411.5,76.0v1.6M416.5,76.0v1.6M421.5,76.0v1.6M426.5,76.0v1.6M431.5,76.0v3M436.5,76.0v1.6M441.5,76.0v1.6" fill="none" stroke="#555" stroke-width="0.8" />
<path d="M394.0,65h2.5v2.2h-2.5Z M404,76.0h2.7v2.5h-2.7Z" fill="#111" stroke="none" stroke-width="0.6" />
<ellipse cx="421.0" cy="43.5" rx="10.8" ry="6.4" fill="none" stroke="#444" stroke-width="0.45"/>
<ellipse cx="421.9" cy="45.1" rx="9.9" ry="6.0" fill="none" stroke="#666" stroke-width="0.45"/>
<ellipse cx="422.8" cy="46.7" rx="9.0" ry="5.6000000000000005" fill="none" stroke="#888" stroke-width="0.45"/>
<ellipse cx="419.8" cy="42.3" rx="11" ry="6.2" fill="#1e1c1d"/>
<ellipse cx="420.5" cy="41.5" rx="1.4" ry="0.6" fill="#bbb"/>
<rect x="396.5" y="34.5" width="21.0" height="10.0" fill="none" stroke="#231f20" stroke-width="0.8"/>
<text x="397" y="52.7" font-size="7.8" textLength="13.5" lengthAdjust="spacingAndGlyphs" fill="#333" >30%</text>
<line x1="431.5" y1="36.5" x2="452.5" y2="36.5" stroke="#231f20" stroke-width="1"/>
<path d="M456,36.5 L452,34.5 L452,38.5 Z" fill="#231f20" stroke="none" stroke-width="0.6" />
<text transform="translate(391.2,75) rotate(-90)" font-size="8" textLength="17" lengthAdjust="spacingAndGlyphs" fill="#231f20" stroke="#231f20" stroke-width="0.1" >CD34</text>
<text x="397" y="86.9" font-size="8" textLength="17" lengthAdjust="spacingAndGlyphs" fill="#231f20" stroke="#231f20" stroke-width="0.1" >CD38</text>
<text x="467" y="22" font-size="8.6" textLength="43" lengthAdjust="spacingAndGlyphs" fill="#231f20" >CD34+CD38<tspan dy="-3" font-size="4.5">lo</tspan><tspan dy="3"></tspan></text>
<rect x="463.5" y="24.5" width="50.0" height="51.0" fill="none" stroke="#231f20" stroke-width="1"/>
<path d="M461.4,70.5h1.6M460.0,65.5h3M461.4,60.5h1.6M461.4,55.5h1.6M461.4,50.5h1.6M461.4,44.5h1.6M460.0,39.5h3M461.4,34.5h1.6M461.4,29.5h1.6M469.5,76.0v1.6M474.5,76.0v3M480.5,76.0v1.6M485.5,76.0v1.6M491.5,76.0v1.6M496.5,76.0v1.6M502.5,76.0v3M507.5,76.0v1.6" fill="none" stroke="#555" stroke-width="0.8" />
<path d="M461.0,65h2.5v2.2h-2.5Z M471,76.0h2.7v2.5h-2.7Z" fill="#111" stroke="none" stroke-width="0.6" />
<text transform="translate(456.8,75) rotate(-90)" font-size="8" textLength="26.5" lengthAdjust="spacingAndGlyphs" fill="#231f20" stroke="#231f20" stroke-width="0.1" >CD45RA</text>
<text x="463" y="86.5" font-size="8" textLength="16.5" lengthAdjust="spacingAndGlyphs" fill="#231f20" stroke="#231f20" stroke-width="0.1" >CD71</text>
<path d="M476.00,58.00 C478.17,56.50 486.50,58.50 490.00,59.00 C493.50,59.50 495.67,59.83 497.00,61.00 C498.33,62.17 499.17,64.83 498.00,66.00 C496.83,67.17 493.50,67.67 490.00,68.00 C486.50,68.33 479.33,69.67 477.00,68.00 C474.67,66.33 473.83,59.50 476.00,58.00 Z" fill="#9a9a9a" stroke="none" stroke-width="0.6" />
<path d="M481.42,58.64 C482.24,57.54 481.93,53.52 481.93,51.94 C481.93,50.36 481.90,47.89 481.42,46.79 C480.94,45.70 478.74,44.60 478.33,43.70 C477.92,42.81 477.85,40.74 478.33,40.10 C478.81,39.45 480.83,38.93 481.93,38.86 C483.03,38.79 485.74,39.01 486.57,39.58 C487.39,40.16 488.11,42.09 488.11,43.19 C488.11,44.29 486.77,46.52 486.57,47.82 C486.36,49.13 486.50,51.53 486.57,52.97 C486.64,54.42 486.33,57.75 487.08,58.64 C487.84,59.53 491.13,59.19 492.23,59.67 C493.33,60.15 494.98,61.42 495.32,62.24 C495.67,63.07 495.77,65.16 494.81,65.85 C493.85,66.54 490.38,67.19 488.11,67.39 C485.85,67.60 479.67,67.74 477.81,67.39 C475.96,67.05 474.48,65.78 474.21,64.82 C473.93,63.86 474.79,61.01 475.75,60.18 C476.71,59.36 480.59,59.74 481.42,58.64 Z" fill="none" stroke="#666" stroke-width="0.4" />
<path d="M481.50,58.50 C482.30,57.43 482.00,53.53 482.00,52.00 C482.00,50.47 481.97,48.07 481.50,47.00 C481.03,45.93 478.90,44.87 478.50,44.00 C478.10,43.13 478.03,41.13 478.50,40.50 C478.97,39.87 480.93,39.37 482.00,39.30 C483.07,39.23 485.70,39.44 486.50,40.00 C487.30,40.56 488.00,42.43 488.00,43.50 C488.00,44.57 486.70,46.73 486.50,48.00 C486.30,49.27 486.43,51.60 486.50,53.00 C486.57,54.40 486.27,57.63 487.00,58.50 C487.73,59.37 490.93,59.03 492.00,59.50 C493.07,59.97 494.67,61.20 495.00,62.00 C495.33,62.80 495.43,64.83 494.50,65.50 C493.57,66.17 490.20,66.80 488.00,67.00 C485.80,67.20 479.80,67.33 478.00,67.00 C476.20,66.67 474.77,65.43 474.50,64.50 C474.23,63.57 475.07,60.80 476.00,60.00 C476.93,59.20 480.70,59.57 481.50,58.50 Z" fill="#1e1c1d" stroke="none" stroke-width="0.6" />
<path d="M482.00,57.67 C482.65,56.79 482.40,53.60 482.40,52.34 C482.40,51.08 482.38,49.11 482.00,48.24 C481.61,47.36 479.86,46.49 479.54,45.78 C479.21,45.07 479.15,43.42 479.54,42.91 C479.92,42.39 481.53,41.98 482.40,41.92 C483.28,41.87 485.44,42.04 486.10,42.50 C486.75,42.96 487.32,44.49 487.32,45.37 C487.32,46.24 486.26,48.02 486.10,49.06 C485.93,50.10 486.04,52.01 486.10,53.16 C486.15,54.31 485.90,56.96 486.50,57.67 C487.11,58.38 489.73,58.11 490.61,58.49 C491.48,58.87 492.79,59.88 493.06,60.54 C493.34,61.19 493.42,62.86 492.65,63.41 C491.89,63.95 489.13,64.47 487.32,64.64 C485.52,64.80 480.60,64.91 479.12,64.64 C477.65,64.36 476.47,63.35 476.25,62.59 C476.04,61.82 476.72,59.55 477.49,58.90 C478.25,58.24 481.34,58.54 482.00,57.67 Z" fill="none" stroke="#585858" stroke-width="0.35" />
<path d="M482.55,56.74 C483.04,56.08 482.86,53.66 482.86,52.71 C482.86,51.76 482.83,50.27 482.55,49.61 C482.26,48.95 480.93,48.29 480.69,47.75 C480.44,47.22 480.40,45.97 480.69,45.58 C480.97,45.20 482.19,44.88 482.86,44.84 C483.52,44.80 485.15,44.93 485.64,45.27 C486.14,45.62 486.57,46.78 486.57,47.44 C486.57,48.10 485.77,49.45 485.64,50.23 C485.52,51.02 485.60,52.47 485.64,53.33 C485.69,54.20 485.50,56.21 485.95,56.74 C486.41,57.28 488.39,57.07 489.06,57.36 C489.72,57.65 490.71,58.42 490.92,58.91 C491.12,59.41 491.18,60.67 490.61,61.08 C490.03,61.50 487.94,61.89 486.57,62.01 C485.21,62.14 481.49,62.22 480.38,62.01 C479.26,61.81 478.37,61.04 478.20,60.46 C478.04,59.88 478.56,58.17 479.13,57.67 C479.71,57.18 482.05,57.40 482.55,56.74 Z" fill="none" stroke="#505050" stroke-width="0.35" />
<path d="M483.10,55.82 C483.43,55.37 483.31,53.73 483.31,53.09 C483.31,52.45 483.29,51.44 483.10,50.99 C482.90,50.54 482.00,50.09 481.83,49.73 C481.67,49.37 481.64,48.52 481.83,48.26 C482.03,48.00 482.86,47.78 483.31,47.76 C483.75,47.73 484.86,47.81 485.19,48.05 C485.53,48.28 485.82,49.07 485.82,49.52 C485.82,49.97 485.28,50.88 485.19,51.41 C485.11,51.94 485.17,52.92 485.19,53.51 C485.22,54.10 485.10,55.46 485.40,55.82 C485.71,56.18 487.06,56.04 487.50,56.24 C487.95,56.44 488.62,56.95 488.76,57.29 C488.90,57.63 488.95,58.48 488.56,58.76 C488.16,59.04 486.75,59.31 485.82,59.39 C484.90,59.47 482.38,59.53 481.62,59.39 C480.87,59.25 480.27,58.73 480.15,58.34 C480.04,57.95 480.39,56.79 480.79,56.45 C481.18,56.11 482.76,56.27 483.10,55.82 Z" fill="none" stroke="#555" stroke-width="0.3" />
<ellipse cx="484" cy="44" rx="1.1" ry="1.6" fill="#ddd"/>
<ellipse cx="484.5" cy="62.5" rx="1" ry="0.7" fill="#ddd"/>
<rect x="468.5" y="58.5" width="40.0" height="11.0" fill="none" stroke="#231f20" stroke-width="0.8"/>
<rect x="469.5" y="58.5" width="10.0" height="11.0" fill="none" stroke="#a8405a" stroke-width="0.8"/>
<rect x="479.5" y="58.5" width="24.0" height="11.0" fill="none" stroke="#3f6896" stroke-width="0.8"/>
<text x="495.3" y="55.7" font-size="8.2" textLength="14.4" lengthAdjust="spacingAndGlyphs" fill="#333" >Total</text>
<text x="472.6" y="73.3" font-size="3.6" font-style="italic" fill="#c06070" >Lo</text>
<text x="497.7" y="73.3" font-size="3.6" font-style="italic" fill="#5a7fb0" >Hi</text>
<text x="317.7" y="82.7" font-size="8" font-style="italic" textLength="40.3" lengthAdjust="spacingAndGlyphs" fill="#3d6aa3" >I) Cell sorting</text>
<line x1="366.5" y1="68" x2="366.5" y2="98.2" stroke="#231f20" stroke-width="1"/>
<polyline points="330.5,106 330.5,98.5 398.5,98.5 398.5,106" fill="none" stroke="#231f20" stroke-width="1"/>
<line x1="330.5" y1="98" x2="330.5" y2="103.0" stroke="#231f20" stroke-width="1"/>
<path d="M330.5,106.5 L328.5,102.5 L332.5,102.5 Z" fill="#231f20" stroke="none" stroke-width="0.6" />
<line x1="366.5" y1="98" x2="366.5" y2="103.0" stroke="#231f20" stroke-width="1"/>
<path d="M366.5,106.5 L364.5,102.5 L368.5,102.5 Z" fill="#231f20" stroke="none" stroke-width="0.6" />
<line x1="398.5" y1="98" x2="398.5" y2="103.0" stroke="#231f20" stroke-width="1"/>
<path d="M398.5,106.5 L396.5,102.5 L400.5,102.5 Z" fill="#231f20" stroke="none" stroke-width="0.6" />
<text x="323" y="118.7" font-size="8.2" textLength="14.7" lengthAdjust="spacingAndGlyphs" fill="#231f20" >Total</text>
<text x="355.8" y="118.5" font-size="8.2" textLength="21.2" lengthAdjust="spacingAndGlyphs" fill="#231f20" >CD71<tspan dy="-3" font-size="4.5">lo</tspan><tspan dy="3"></tspan></text>
<text x="388" y="118.5" font-size="8.2" textLength="20.6" lengthAdjust="spacingAndGlyphs" fill="#231f20" >CD71<tspan dy="-3" font-size="4.5">hi</tspan><tspan dy="3"></tspan></text>
<line x1="418.8" y1="114.5" x2="437.8" y2="114.5" stroke="#231f20" stroke-width="1"/>
<path d="M441.3,114.5 L437.3,112.5 L437.3,116.5 Z" fill="#231f20" stroke="none" stroke-width="0.6" />
<text x="451.7" y="110.6" font-size="8" font-style="italic" textLength="54.8" lengthAdjust="spacingAndGlyphs" fill="#3d6aa3" >II) Transplantation</text>
<text x="467" y="121" font-size="8" font-style="italic" textLength="22" lengthAdjust="spacingAndGlyphs" fill="#3d6aa3" >at day0</text>
<polyline points="330.5,161 330.5,127.5 398.5,127.5 398.5,161" fill="none" stroke="#231f20" stroke-width="1"/>
<line x1="330.5" y1="127.2" x2="330.5" y2="157.5" stroke="#231f20" stroke-width="1"/>
<path d="M330.5,161 L328.5,157 L332.5,157 Z" fill="#231f20" stroke="none" stroke-width="0.6" />
<line x1="366.5" y1="127.2" x2="366.5" y2="157.5" stroke="#231f20" stroke-width="1"/>
<path d="M366.5,161 L364.5,157 L368.5,157 Z" fill="#231f20" stroke="none" stroke-width="0.6" />
<line x1="398.5" y1="127.2" x2="398.5" y2="157.5" stroke="#231f20" stroke-width="1"/>
<path d="M398.5,161 L396.5,157 L400.5,157 Z" fill="#231f20" stroke="none" stroke-width="0.6" />
<text x="285.8" y="138.5" font-size="8" font-style="italic" textLength="28.8" lengthAdjust="spacingAndGlyphs" fill="#3d6aa3" >III) Ex vivo</text>
<text x="284.4" y="146.5" font-size="8" font-style="italic" textLength="29.6" lengthAdjust="spacingAndGlyphs" fill="#3d6aa3" >expansion</text>
<text x="271" y="154.8" font-size="8" font-style="italic" textLength="56.7" lengthAdjust="spacingAndGlyphs" fill="#3d6aa3" >(DMSO vs UM171)</text>
<text x="309.4" y="171" font-size="8.2" textLength="14.4" lengthAdjust="spacingAndGlyphs" fill="#231f20" >Day7</text>
<text x="341" y="169.2" font-size="8" font-style="italic" textLength="50" lengthAdjust="spacingAndGlyphs" fill="#231f20" >outcome of day0</text>
<text x="348.8" y="178" font-size="8" font-style="italic" textLength="35" lengthAdjust="spacingAndGlyphs" fill="#231f20" >sorted cells</text>
<line x1="366.5" y1="181" x2="366.5" y2="195.5" stroke="#231f20" stroke-width="1"/>
<path d="M366.5,199 L364.5,195 L368.5,195 Z" fill="#231f20" stroke="none" stroke-width="0.6" />
<text x="328.6" y="208" font-size="8" font-style="italic" textLength="71" lengthAdjust="spacingAndGlyphs" fill="#3d6aa3" >V) FACS and WB analysis</text>
<line x1="419" y1="169.5" x2="437.8" y2="169.5" stroke="#231f20" stroke-width="1"/>
<path d="M441.3,169.5 L437.3,167.5 L437.3,171.5 Z" fill="#231f20" stroke="none" stroke-width="0.6" />
<text x="451.7" y="159.6" font-size="8" font-style="italic" textLength="57" lengthAdjust="spacingAndGlyphs" fill="#3d6aa3" >IV) Transplantation</text>
<text x="469.6" y="170.2" font-size="8" font-style="italic" textLength="21.4" lengthAdjust="spacingAndGlyphs" fill="#3d6aa3" >at day7</text>
<text x="451.4" y="180.4" font-size="8" font-style="italic" textLength="58.2" lengthAdjust="spacingAndGlyphs" fill="#3d6aa3" >(UM171 condition)</text>
<text x="7" y="246" font-size="11.5" font-weight="bold" textLength="8" lengthAdjust="spacingAndGlyphs" fill="#231f20" stroke="#231f20" stroke-width="0.35" >C</text>
<text x="97.6" y="262" font-size="9.2" textLength="116.6" lengthAdjust="spacingAndGlyphs" fill="#231f20" >Day7 expanded CD34+ cells</text>
<line x1="55" y1="267.5" x2="258" y2="267.5" stroke="#444" stroke-width="0.9"/>
<text x="20" y="280" font-size="6.8" textLength="34.5" lengthAdjust="spacingAndGlyphs" fill="#231f20" >OUTCOME</text>
<text x="32.5" y="287.5" font-size="6.8" textLength="11.2" lengthAdjust="spacingAndGlyphs" fill="#231f20" >OF:</text>
<text x="74.3" y="283.7" font-size="6.8" textLength="21.5" lengthAdjust="spacingAndGlyphs" fill="#231f20" >TOTAL</text>
<text x="139.7" y="283.7" font-size="7.2" textLength="22" lengthAdjust="spacingAndGlyphs" fill="#231f20" >CD71<tspan dy="-3" font-size="4.5">lo</tspan><tspan dy="3"></tspan></text>
<text x="205" y="283.2" font-size="7.2" textLength="21.8" lengthAdjust="spacingAndGlyphs" fill="#231f20" >CD71<tspan dy="-3" font-size="4.5">hi</tspan><tspan dy="3"></tspan></text>
<rect x="18.5" y="293.5" width="13.0" height="130.0" fill="#ebebeb" stroke="#555" stroke-width="1"/>
<rect x="18.5" y="461.5" width="13.0" height="130.0" fill="#ebebeb" stroke="#555" stroke-width="1"/>
<text transform="translate(29.6,383.5) rotate(-90)" font-size="7.2" textLength="50" lengthAdjust="spacingAndGlyphs" fill="#333" >CD34<tspan dy="-2.5" font-size="4">+</tspan><tspan dy="2.5">CD45RA<tspan dy="-2.5" font-size="4">lo</tspan><tspan dy="2.5"></tspan></tspan></text>
<text transform="translate(29.6,547.7) rotate(-90)" font-size="7.2" textLength="41.5" lengthAdjust="spacingAndGlyphs" fill="#333" >CD90<tspan dy="-2.5" font-size="4">+</tspan><tspan dy="2.5">CD71<tspan dy="-2.5" font-size="4">lo</tspan><tspan dy="2.5"></tspan></tspan></text>
<rect x="54.5" y="292.5" width="61.0" height="61.0" fill="none" stroke="#3a3a3a" stroke-width="1"/>
<path d="M52.4,348.5h1.6M51.0,343.5h3M52.4,338.5h1.6M52.4,333.5h1.6M52.4,328.5h1.6M52.4,323.5h1.6M51.0,317.5h3M52.4,312.5h1.6M52.4,307.5h1.6M52.4,302.5h1.6M52.4,297.5h1.6M59.5,354.0v1.6M64.5,354.0v3M69.5,354.0v1.6M74.5,354.0v1.6M79.5,354.0v1.6M84.5,354.0v1.6M90.5,354.0v3M95.5,354.0v1.6M100.5,354.0v1.6M105.5,354.0v1.6M110.5,354.0v1.6" fill="none" stroke="#666" stroke-width="0.8" />
<path d="M52.0,344h2.5v4h-2.5Z M66,354.0h4.5v2.5h-4.5Z" fill="#111" stroke="none" stroke-width="0.6" />
<rect x="54.5" y="360.5" width="61.0" height="61.0" fill="none" stroke="#3a3a3a" stroke-width="1"/>
<path d="M52.4,416.5h1.6M51.0,411.5h3M52.4,406.5h1.6M52.4,401.5h1.6M52.4,396.5h1.6M52.4,391.5h1.6M51.0,386.5h3M52.4,380.5h1.6M52.4,375.5h1.6M52.4,370.5h1.6M52.4,365.5h1.6M59.5,422.0v1.6M64.5,422.0v3M69.5,422.0v1.6M74.5,422.0v1.6M79.5,422.0v1.6M84.5,422.0v1.6M90.5,422.0v3M95.5,422.0v1.6M100.5,422.0v1.6M105.5,422.0v1.6M110.5,422.0v1.6" fill="none" stroke="#666" stroke-width="0.8" />
<path d="M52.0,412h2.5v4h-2.5Z M66,422.0h4.5v2.5h-4.5Z" fill="#111" stroke="none" stroke-width="0.6" />
<rect x="54.5" y="462.5" width="61.0" height="61.0" fill="none" stroke="#3a3a3a" stroke-width="1"/>
<path d="M52.4,517.5h1.6M51.0,512.5h3M52.4,507.5h1.6M52.4,502.5h1.6M52.4,497.5h1.6M52.4,492.5h1.6M51.0,487.5h3M52.4,482.5h1.6M52.4,477.5h1.6M52.4,472.5h1.6M52.4,467.5h1.6M59.5,524.0v1.6M64.5,524.0v3M69.5,524.0v1.6M74.5,524.0v1.6M79.5,524.0v1.6M84.5,524.0v1.6M90.5,524.0v3M95.5,524.0v1.6M100.5,524.0v1.6M105.5,524.0v1.6M110.5,524.0v1.6" fill="none" stroke="#666" stroke-width="0.8" />
<path d="M52.0,513h2.5v4h-2.5Z M57,524.0h4.5v2.5h-4.5Z" fill="#111" stroke="none" stroke-width="0.6" />
<rect x="54.5" y="530.5" width="61.0" height="61.0" fill="none" stroke="#3a3a3a" stroke-width="1"/>
<path d="M52.4,585.5h1.6M51.0,580.5h3M52.4,575.5h1.6M52.4,570.5h1.6M52.4,565.5h1.6M52.4,560.5h1.6M51.0,555.5h3M52.4,550.5h1.6M52.4,545.5h1.6M52.4,540.5h1.6M52.4,535.5h1.6M59.5,592.0v1.6M64.5,592.0v3M69.5,592.0v1.6M74.5,592.0v1.6M79.5,592.0v1.6M84.5,592.0v1.6M90.5,592.0v3M95.5,592.0v1.6M100.5,592.0v1.6M105.5,592.0v1.6M110.5,592.0v1.6" fill="none" stroke="#666" stroke-width="0.8" />
<path d="M52.0,581h2.5v4h-2.5Z M57,592.0h4.5v2.5h-4.5Z" fill="#111" stroke="none" stroke-width="0.6" />
<rect x="119.5" y="292.5" width="61.0" height="61.0" fill="none" stroke="#3a3a3a" stroke-width="1"/>
<path d="M117.4,348.5h1.6M116.0,343.5h3M117.4,338.5h1.6M117.4,333.5h1.6M117.4,328.5h1.6M117.4,323.5h1.6M116.0,317.5h3M117.4,312.5h1.6M117.4,307.5h1.6M117.4,302.5h1.6M117.4,297.5h1.6M124.5,354.0v1.6M129.5,354.0v3M134.5,354.0v1.6M139.5,354.0v1.6M144.5,354.0v1.6M149.5,354.0v1.6M155.5,354.0v3M160.5,354.0v1.6M165.5,354.0v1.6M170.5,354.0v1.6M175.5,354.0v1.6" fill="none" stroke="#666" stroke-width="0.8" />
<path d="M117.0,344h2.5v4h-2.5Z M131,354.0h4.5v2.5h-4.5Z" fill="#111" stroke="none" stroke-width="0.6" />
<rect x="119.5" y="360.5" width="61.0" height="61.0" fill="none" stroke="#3a3a3a" stroke-width="1"/>
<path d="M117.4,416.5h1.6M116.0,411.5h3M117.4,406.5h1.6M117.4,401.5h1.6M117.4,396.5h1.6M117.4,391.5h1.6M116.0,386.5h3M117.4,380.5h1.6M117.4,375.5h1.6M117.4,370.5h1.6M117.4,365.5h1.6M124.5,422.0v1.6M129.5,422.0v3M134.5,422.0v1.6M139.5,422.0v1.6M144.5,422.0v1.6M149.5,422.0v1.6M155.5,422.0v3M160.5,422.0v1.6M165.5,422.0v1.6M170.5,422.0v1.6M175.5,422.0v1.6" fill="none" stroke="#666" stroke-width="0.8" />
<path d="M117.0,412h2.5v4h-2.5Z M131,422.0h4.5v2.5h-4.5Z" fill="#111" stroke="none" stroke-width="0.6" />
<rect x="119.5" y="462.5" width="61.0" height="61.0" fill="none" stroke="#3a3a3a" stroke-width="1"/>
<path d="M117.4,517.5h1.6M116.0,512.5h3M117.4,507.5h1.6M117.4,502.5h1.6M117.4,497.5h1.6M117.4,492.5h1.6M116.0,487.5h3M117.4,482.5h1.6M117.4,477.5h1.6M117.4,472.5h1.6M117.4,467.5h1.6M124.5,524.0v1.6M129.5,524.0v3M134.5,524.0v1.6M139.5,524.0v1.6M144.5,524.0v1.6M149.5,524.0v1.6M155.5,524.0v3M160.5,524.0v1.6M165.5,524.0v1.6M170.5,524.0v1.6M175.5,524.0v1.6" fill="none" stroke="#666" stroke-width="0.8" />
<path d="M117.0,513h2.5v4h-2.5Z M122,524.0h4.5v2.5h-4.5Z" fill="#111" stroke="none" stroke-width="0.6" />
<rect x="119.5" y="530.5" width="61.0" height="61.0" fill="none" stroke="#3a3a3a" stroke-width="1"/>
<path d="M117.4,585.5h1.6M116.0,580.5h3M117.4,575.5h1.6M117.4,570.5h1.6M117.4,565.5h1.6M117.4,560.5h1.6M116.0,555.5h3M117.4,550.5h1.6M117.4,545.5h1.6M117.4,540.5h1.6M117.4,535.5h1.6M124.5,592.0v1.6M129.5,592.0v3M134.5,592.0v1.6M139.5,592.0v1.6M144.5,592.0v1.6M149.5,592.0v1.6M155.5,592.0v3M160.5,592.0v1.6M165.5,592.0v1.6M170.5,592.0v1.6M175.5,592.0v1.6" fill="none" stroke="#666" stroke-width="0.8" />
<path d="M117.0,581h2.5v4h-2.5Z M122,592.0h4.5v2.5h-4.5Z" fill="#111" stroke="none" stroke-width="0.6" />
<rect x="185.5" y="292.5" width="61.0" height="61.0" fill="none" stroke="#3a3a3a" stroke-width="1"/>
<path d="M183.4,348.5h1.6M182.0,343.5h3M183.4,338.5h1.6M183.4,333.5h1.6M183.4,328.5h1.6M183.4,323.5h1.6M182.0,317.5h3M183.4,312.5h1.6M183.4,307.5h1.6M183.4,302.5h1.6M183.4,297.5h1.6M190.5,354.0v1.6M195.5,354.0v3M200.5,354.0v1.6M205.5,354.0v1.6M210.5,354.0v1.6M215.5,354.0v1.6M220.5,354.0v3M225.5,354.0v1.6M230.5,354.0v1.6M235.5,354.0v1.6M240.5,354.0v1.6" fill="none" stroke="#666" stroke-width="0.8" />
<path d="M183.0,344h2.5v4h-2.5Z M197,354.0h4.5v2.5h-4.5Z" fill="#111" stroke="none" stroke-width="0.6" />
<rect x="185.5" y="360.5" width="61.0" height="61.0" fill="none" stroke="#3a3a3a" stroke-width="1"/>
<path d="M183.4,416.5h1.6M182.0,411.5h3M183.4,406.5h1.6M183.4,401.5h1.6M183.4,396.5h1.6M183.4,391.5h1.6M182.0,386.5h3M183.4,380.5h1.6M183.4,375.5h1.6M183.4,370.5h1.6M183.4,365.5h1.6M190.5,422.0v1.6M195.5,422.0v3M200.5,422.0v1.6M205.5,422.0v1.6M210.5,422.0v1.6M215.5,422.0v1.6M220.5,422.0v3M225.5,422.0v1.6M230.5,422.0v1.6M235.5,422.0v1.6M240.5,422.0v1.6" fill="none" stroke="#666" stroke-width="0.8" />
<path d="M183.0,412h2.5v4h-2.5Z M197,422.0h4.5v2.5h-4.5Z" fill="#111" stroke="none" stroke-width="0.6" />
<rect x="185.5" y="462.5" width="61.0" height="61.0" fill="none" stroke="#3a3a3a" stroke-width="1"/>
<path d="M183.4,517.5h1.6M182.0,512.5h3M183.4,507.5h1.6M183.4,502.5h1.6M183.4,497.5h1.6M183.4,492.5h1.6M182.0,487.5h3M183.4,482.5h1.6M183.4,477.5h1.6M183.4,472.5h1.6M183.4,467.5h1.6M190.5,524.0v1.6M195.5,524.0v3M200.5,524.0v1.6M205.5,524.0v1.6M210.5,524.0v1.6M215.5,524.0v1.6M220.5,524.0v3M225.5,524.0v1.6M230.5,524.0v1.6M235.5,524.0v1.6M240.5,524.0v1.6" fill="none" stroke="#666" stroke-width="0.8" />
<path d="M183.0,513h2.5v4h-2.5Z M188,524.0h4.5v2.5h-4.5Z" fill="#111" stroke="none" stroke-width="0.6" />
<rect x="185.5" y="530.5" width="61.0" height="61.0" fill="none" stroke="#3a3a3a" stroke-width="1"/>
<path d="M183.4,585.5h1.6M182.0,580.5h3M183.4,575.5h1.6M183.4,570.5h1.6M183.4,565.5h1.6M183.4,560.5h1.6M182.0,555.5h3M183.4,550.5h1.6M183.4,545.5h1.6M183.4,540.5h1.6M183.4,535.5h1.6M190.5,592.0v1.6M195.5,592.0v3M200.5,592.0v1.6M205.5,592.0v1.6M210.5,592.0v1.6M215.5,592.0v1.6M220.5,592.0v3M225.5,592.0v1.6M230.5,592.0v1.6M235.5,592.0v1.6M240.5,592.0v1.6" fill="none" stroke="#666" stroke-width="0.8" />
<path d="M183.0,581h2.5v4h-2.5Z M188,592.0h4.5v2.5h-4.5Z" fill="#111" stroke="none" stroke-width="0.6" />
<rect x="61.5" y="293.5" width="53.0" height="13.0" fill="none" stroke="#231f20" stroke-width="1"/>
<line x1="93.5" y1="293.40000000000003" x2="93.5" y2="306.1" stroke="#231f20" stroke-width="1"/>
<rect x="61.5" y="361.5" width="53.0" height="13.0" fill="none" stroke="#231f20" stroke-width="1"/>
<line x1="93.5" y1="361.8" x2="93.5" y2="374.3" stroke="#231f20" stroke-width="1"/>
<rect x="126.5" y="293.5" width="53.0" height="13.0" fill="none" stroke="#231f20" stroke-width="1"/>
<line x1="158.5" y1="293.40000000000003" x2="158.5" y2="306.1" stroke="#231f20" stroke-width="1"/>
<rect x="126.5" y="361.5" width="53.0" height="13.0" fill="none" stroke="#231f20" stroke-width="1"/>
<line x1="158.5" y1="361.8" x2="158.5" y2="374.3" stroke="#231f20" stroke-width="1"/>
<rect x="191.5" y="293.5" width="54.0" height="13.0" fill="none" stroke="#231f20" stroke-width="1"/>
<line x1="223.5" y1="293.40000000000003" x2="223.5" y2="306.1" stroke="#231f20" stroke-width="1"/>
<rect x="191.5" y="361.5" width="54.0" height="13.0" fill="none" stroke="#231f20" stroke-width="1"/>
<line x1="223.5" y1="361.8" x2="223.5" y2="374.3" stroke="#231f20" stroke-width="1"/>
<path d="M68.67,321.56 C68.86,318.96 69.55,311.60 71.87,309.20 C74.18,306.79 80.07,308.48 82.58,307.14 C85.08,305.80 84.59,302.81 86.90,301.16 C89.22,299.51 93.29,298.26 96.48,297.25 C99.68,296.24 103.57,294.88 106.06,295.09 C108.55,295.29 110.89,296.75 111.42,298.48 C111.95,300.22 110.85,303.26 109.25,305.49 C107.66,307.72 104.36,309.92 101.84,311.87 C99.32,313.83 97.32,315.45 94.11,317.23 C90.90,319.02 86.47,321.33 82.58,322.59 C78.68,323.84 73.05,324.92 70.73,324.75 C68.42,324.58 68.48,324.15 68.67,321.56 Z" fill="none" stroke="#555" stroke-width="0.4" />
<path d="M69.30,321.20 C69.48,318.68 70.15,311.53 72.40,309.20 C74.65,306.87 80.37,308.50 82.80,307.20 C85.23,305.90 84.75,303.00 87.00,301.40 C89.25,299.80 93.20,298.58 96.30,297.60 C99.40,296.62 103.18,295.30 105.60,295.50 C108.02,295.70 110.28,297.12 110.80,298.80 C111.32,300.48 110.25,303.43 108.70,305.60 C107.15,307.77 103.95,309.90 101.50,311.80 C99.05,313.70 97.12,315.27 94.00,317.00 C90.88,318.73 86.58,320.98 82.80,322.20 C79.02,323.42 73.55,324.47 71.30,324.30 C69.05,324.13 69.12,323.72 69.30,321.20 Z" fill="#262425" stroke="none" stroke-width="0.6" />
<path d="M73.06,319.06 C73.21,317.00 73.76,311.13 75.61,309.22 C77.45,307.31 82.14,308.65 84.13,307.58 C86.13,306.51 85.73,304.14 87.58,302.82 C89.42,301.51 92.66,300.52 95.20,299.71 C97.75,298.90 100.85,297.82 102.83,297.99 C104.81,298.15 106.67,299.31 107.09,300.69 C107.52,302.07 106.64,304.49 105.37,306.27 C104.10,308.05 101.48,309.80 99.47,311.35 C97.46,312.91 95.87,314.20 93.32,315.62 C90.76,317.04 87.24,318.88 84.13,319.88 C81.03,320.88 76.55,321.74 74.70,321.60 C72.86,321.47 72.91,321.12 73.06,319.06 Z" fill="none" stroke="#585858" stroke-width="0.35" />
<path d="M77.25,316.68 C77.36,315.12 77.77,310.69 79.17,309.24 C80.56,307.80 84.11,308.81 85.62,308.00 C87.12,307.20 86.82,305.40 88.22,304.41 C89.61,303.42 92.06,302.66 93.99,302.05 C95.91,301.44 98.25,300.63 99.75,300.75 C101.25,300.87 102.65,301.75 102.98,302.80 C103.30,303.84 102.63,305.67 101.67,307.01 C100.71,308.36 98.73,309.68 97.21,310.86 C95.69,312.03 94.49,313.01 92.56,314.08 C90.63,315.15 87.96,316.55 85.62,317.30 C83.27,318.06 79.88,318.71 78.49,318.61 C77.09,318.50 77.13,318.24 77.25,316.68 Z" fill="none" stroke="#505050" stroke-width="0.35" />
<path d="M81.43,314.31 C81.50,313.25 81.78,310.25 82.73,309.27 C83.67,308.29 86.07,308.97 87.10,308.43 C88.12,307.88 87.92,306.66 88.86,305.99 C89.81,305.32 91.46,304.81 92.77,304.40 C94.07,303.98 95.66,303.43 96.67,303.51 C97.69,303.60 98.64,304.19 98.86,304.90 C99.07,305.61 98.63,306.85 97.97,307.76 C97.32,308.67 95.98,309.56 94.95,310.36 C93.92,311.16 93.11,311.82 91.80,312.54 C90.49,313.27 88.69,314.22 87.10,314.73 C85.51,315.24 83.21,315.68 82.27,315.61 C81.32,315.54 81.35,315.36 81.43,314.31 Z" fill="none" stroke="#555" stroke-width="0.3" />
<path d="M79.00,315.00 C79.67,313.50 82.17,311.58 84.00,310.00 C85.83,308.42 87.83,306.58 90.00,305.50 C92.17,304.42 95.50,303.25 97.00,303.50 C98.50,303.75 99.67,305.42 99.00,307.00 C98.33,308.58 95.17,311.17 93.00,313.00 C90.83,314.83 88.17,317.00 86.00,318.00 C83.83,319.00 81.17,319.50 80.00,319.00 C78.83,318.50 78.33,316.50 79.00,315.00 Z" fill="#8e8e8e" stroke="none" stroke-width="0.6" />
<path d="M81,318.0 L88.0,306.5" fill="none" stroke="#e8e8e8" stroke-width="0.5" />
<path d="M85,316.5 L91.2,305.7" fill="none" stroke="#e8e8e8" stroke-width="0.5" />
<path d="M89,315.0 L94.4,304.9" fill="none" stroke="#e8e8e8" stroke-width="0.5" />
<path d="M93,313.5 L97.6,304.1" fill="none" stroke="#e8e8e8" stroke-width="0.5" />
<ellipse cx="104" cy="299" rx="2.2" ry="1" fill="#ddd"/>
<path d="M134.70,315.00 C135.20,313.17 136.53,312.50 138.00,311.50 C139.47,310.50 142.75,310.17 143.50,309.00 C144.25,307.83 141.42,305.92 142.50,304.50 C143.58,303.08 146.68,301.65 150.00,300.50 C153.32,299.35 158.73,298.18 162.40,297.60 C166.07,297.02 169.82,296.68 172.00,297.00 C174.18,297.32 175.50,298.42 175.50,299.50 C175.50,300.58 173.58,302.25 172.00,303.50 C170.42,304.75 168.17,305.83 166.00,307.00 C163.83,308.17 160.83,308.92 159.00,310.50 C157.17,312.08 156.33,314.45 155.00,316.50 C153.67,318.55 153.83,321.47 151.00,322.80 C148.17,324.13 140.67,324.55 138.00,324.50 C135.33,324.45 135.55,324.08 135.00,322.50 C134.45,320.92 134.20,316.83 134.70,315.00 Z" fill="#8d8d8d" stroke="none" stroke-width="0.6" />
<path d="M143.00,304.60 C143.83,303.67 146.77,302.10 150.00,301.00 C153.23,299.90 158.73,298.58 162.40,298.00 C166.07,297.42 169.90,297.25 172.00,297.50 C174.10,297.75 175.00,298.58 175.00,299.50 C175.00,300.42 173.17,301.92 172.00,303.00 C170.83,304.08 170.57,305.28 168.00,306.00 C165.43,306.72 160.43,307.20 156.60,307.30 C152.77,307.40 147.27,307.05 145.00,306.60 C142.73,306.15 142.17,305.53 143.00,304.60 Z" fill="#1e1c1d" stroke="none" stroke-width="0.6" />
<path d="M134.70,316.00 C135.17,314.27 136.22,313.00 138.10,312.50 C139.98,312.00 143.30,312.42 146.00,313.00 C148.70,313.58 153.30,314.67 154.30,316.00 C155.30,317.33 152.77,319.85 152.00,321.00 C151.23,322.15 152.02,322.40 149.70,322.90 C147.38,323.40 140.50,324.00 138.10,324.00 C135.70,324.00 135.87,324.23 135.30,322.90 C134.73,321.57 134.23,317.73 134.70,316.00 Z" fill="#1e1c1d" stroke="none" stroke-width="0.6" />
<path d="M145,313.0 L150,307.0" fill="none" stroke="#e0e0e0" stroke-width="0.45" />
<path d="M148,312.6 L153,306.8" fill="none" stroke="#e0e0e0" stroke-width="0.45" />
<path d="M151,312.2 L156,306.6" fill="none" stroke="#e0e0e0" stroke-width="0.45" />
<path d="M154,311.8 L159,306.4" fill="none" stroke="#e0e0e0" stroke-width="0.45" />
<ellipse cx="166" cy="300.5" rx="2.5" ry="0.8" fill="#ccc"/>
<ellipse cx="143" cy="319" rx="4" ry="0.8" fill="#999"/>
<path d="M199.24,323.82 C197.78,322.39 199.57,316.90 199.96,314.14 C200.36,311.37 200.32,308.69 201.61,307.23 C202.90,305.78 205.51,305.88 207.69,305.38 C209.87,304.88 211.94,305.23 214.69,304.25 C217.44,303.27 220.80,300.59 224.17,299.51 C227.53,298.43 232.10,297.66 234.88,297.76 C237.66,297.86 240.25,298.55 240.85,300.13 C241.45,301.71 240.27,305.05 238.48,307.23 C236.70,309.41 233.11,311.32 230.14,313.21 C227.17,315.10 224.24,316.98 220.67,318.56 C217.09,320.14 212.29,321.81 208.72,322.68 C205.15,323.56 200.70,325.24 199.24,323.82 Z" fill="none" stroke="#555" stroke-width="0.4" />
<path d="M199.80,323.40 C198.38,322.02 200.12,316.68 200.50,314.00 C200.88,311.32 200.85,308.72 202.10,307.30 C203.35,305.88 205.88,305.98 208.00,305.50 C210.12,305.02 212.13,305.35 214.80,304.40 C217.47,303.45 220.73,300.85 224.00,299.80 C227.27,298.75 231.70,298.00 234.40,298.10 C237.10,298.20 239.62,298.87 240.20,300.40 C240.78,301.93 239.63,305.18 237.90,307.30 C236.17,309.42 232.68,311.27 229.80,313.10 C226.92,314.93 224.07,316.77 220.60,318.30 C217.13,319.83 212.47,321.45 209.00,322.30 C205.53,323.15 201.22,324.78 199.80,323.40 Z" fill="#262425" stroke="none" stroke-width="0.6" />
<path d="M203.15,320.90 C201.99,319.76 203.41,315.39 203.73,313.19 C204.04,310.99 204.01,308.86 205.04,307.69 C206.06,306.53 208.14,306.61 209.88,306.22 C211.61,305.82 213.27,306.10 215.45,305.32 C217.64,304.54 220.32,302.41 223.00,301.54 C225.68,300.68 229.31,300.07 231.52,300.15 C233.74,300.23 235.80,300.78 236.28,302.04 C236.76,303.29 235.82,305.96 234.39,307.69 C232.97,309.43 230.12,310.95 227.75,312.45 C225.39,313.95 223.05,315.46 220.21,316.71 C217.37,317.97 213.54,319.30 210.70,319.99 C207.85,320.69 204.31,322.03 203.15,320.90 Z" fill="none" stroke="#585858" stroke-width="0.35" />
<path d="M206.88,318.11 C206.00,317.26 207.07,313.95 207.31,312.29 C207.55,310.62 207.53,309.01 208.30,308.13 C209.08,307.25 210.65,307.32 211.96,307.02 C213.27,306.72 214.52,306.92 216.18,306.33 C217.83,305.75 219.86,304.13 221.88,303.48 C223.91,302.83 226.66,302.37 228.33,302.43 C230.00,302.49 231.56,302.90 231.93,303.85 C232.29,304.81 231.57,306.82 230.50,308.13 C229.42,309.45 227.27,310.59 225.48,311.73 C223.69,312.87 221.92,314.00 219.77,314.95 C217.62,315.90 214.73,316.91 212.58,317.43 C210.43,317.96 207.76,318.97 206.88,318.11 Z" fill="none" stroke="#505050" stroke-width="0.35" />
<path d="M210.60,315.33 C210.01,314.75 210.74,312.51 210.90,311.39 C211.06,310.26 211.04,309.17 211.57,308.57 C212.09,307.98 213.16,308.02 214.05,307.82 C214.94,307.61 215.78,307.75 216.90,307.35 C218.02,306.95 219.39,305.86 220.77,305.42 C222.14,304.98 224.00,304.67 225.13,304.71 C226.27,304.75 227.33,305.03 227.57,305.67 C227.82,306.32 227.33,307.68 226.60,308.57 C225.88,309.46 224.41,310.24 223.20,311.01 C221.99,311.78 220.79,312.55 219.34,313.19 C217.88,313.84 215.92,314.51 214.47,314.87 C213.01,315.23 211.20,315.91 210.60,315.33 Z" fill="none" stroke="#555" stroke-width="0.3" />
<path d="M202.00,318.00 C201.67,316.17 202.00,310.75 203.00,309.00 C204.00,307.25 206.50,307.50 208.00,307.50 C209.50,307.50 211.67,307.58 212.00,309.00 C212.33,310.42 211.17,314.17 210.00,316.00 C208.83,317.83 206.33,319.67 205.00,320.00 C203.67,320.33 202.33,319.83 202.00,318.00 Z" fill="#6a6a6a" stroke="none" stroke-width="0.6" />
<path d="M216.00,312.50 C216.42,311.75 217.83,310.78 219.00,310.50 C220.17,310.22 222.42,310.30 223.00,310.80 C223.58,311.30 223.17,312.72 222.50,313.50 C221.83,314.28 220.00,315.25 219.00,315.50 C218.00,315.75 217.00,315.50 216.50,315.00 C216.00,314.50 215.58,313.25 216.00,312.50 Z" fill="#f4f4f4" stroke="none" stroke-width="0.6" />
<path d="M213,318.0 C214,311 220,308 226,309" fill="none" stroke="#bbb" stroke-width="0.4" />
<path d="M215,317.5 C216,310 222,307 227,308" fill="none" stroke="#bbb" stroke-width="0.4" />
<path d="M217,317.0 C218,309 224,306 228,307" fill="none" stroke="#bbb" stroke-width="0.4" />
<ellipse cx="233.5" cy="301.5" rx="2.2" ry="1" fill="#eee"/>
<text x="63.5" y="334.5" font-size="6.8" font-style="italic" textLength="8.8" lengthAdjust="spacingAndGlyphs" fill="#c9467a" >7%</text>
<text x="99" y="334.5" font-size="6.8" font-style="italic" textLength="12.5" lengthAdjust="spacingAndGlyphs" fill="#444" >39%</text>
<text x="125.9" y="333.6" font-size="6.8" font-style="italic" textLength="12" lengthAdjust="spacingAndGlyphs" fill="#c9467a" >14%</text>
<text x="164.8" y="333.6" font-size="6.8" font-style="italic" textLength="12.4" lengthAdjust="spacingAndGlyphs" fill="#444" >39%</text>
<text x="190.8" y="333.6" font-size="6.8" font-style="italic" textLength="8.8" lengthAdjust="spacingAndGlyphs" fill="#c9467a" >7%</text>
<text x="229.7" y="333.6" font-size="6.8" font-style="italic" textLength="13" lengthAdjust="spacingAndGlyphs" fill="#444" >34%</text>
<text x="249.2" y="324.6" font-size="7.2" textLength="21" lengthAdjust="spacingAndGlyphs" fill="#231f20" >DMSO</text>
<ellipse cx="97" cy="375.5" rx="6" ry="1.8" fill="none" stroke="#666" stroke-width="0.4"/>
<ellipse cx="97" cy="376.0" rx="4.800000000000001" ry="1.4" fill="none" stroke="#888" stroke-width="0.35"/>
<ellipse cx="158" cy="375.2" rx="5" ry="1.8" fill="none" stroke="#666" stroke-width="0.4"/>
<ellipse cx="158" cy="375.7" rx="4.0" ry="1.4" fill="none" stroke="#888" stroke-width="0.35"/>
<ellipse cx="227" cy="376" rx="6" ry="1.8" fill="none" stroke="#666" stroke-width="0.4"/>
<ellipse cx="227" cy="376.5" rx="4.800000000000001" ry="1.4" fill="none" stroke="#888" stroke-width="0.35"/>
<path d="M69.63,372.42 C69.63,371.43 68.65,370.24 71.98,369.46 C75.31,368.68 84.13,368.36 89.63,367.73 C95.12,367.10 101.59,365.59 104.93,365.69 C108.26,365.79 109.43,367.41 109.62,368.34 C109.80,369.28 108.80,370.13 106.05,371.30 C103.29,372.47 97.80,374.49 93.09,375.38 C88.38,376.26 81.31,376.60 77.79,376.60 C74.27,376.60 73.34,376.08 71.98,375.38 C70.62,374.68 69.63,373.41 69.63,372.42 Z" fill="none" stroke="#555" stroke-width="0.4" />
<path d="M70.00,372.40 C70.00,371.43 69.03,370.27 72.30,369.50 C75.57,368.73 84.22,368.42 89.60,367.80 C94.98,367.18 101.33,365.70 104.60,365.80 C107.87,365.90 109.02,367.48 109.20,368.40 C109.38,369.32 108.40,370.15 105.70,371.30 C103.00,372.45 97.62,374.43 93.00,375.30 C88.38,376.17 81.45,376.50 78.00,376.50 C74.55,376.50 73.63,375.98 72.30,375.30 C70.97,374.62 70.00,373.37 70.00,372.40 Z" fill="#1e1c1d" stroke="none" stroke-width="0.6" />
<path d="M73.29,372.21 C73.29,371.42 72.50,370.46 75.18,369.84 C77.86,369.21 84.95,368.95 89.37,368.44 C93.78,367.94 98.99,366.72 101.67,366.80 C104.34,366.88 105.29,368.18 105.44,368.93 C105.59,369.69 104.78,370.37 102.57,371.31 C100.35,372.25 95.94,373.88 92.15,374.59 C88.37,375.30 82.68,375.58 79.85,375.58 C77.03,375.58 76.27,375.15 75.18,374.59 C74.09,374.03 73.29,373.01 73.29,372.21 Z" fill="none" stroke="#585858" stroke-width="0.35" />
<path d="M76.95,372.01 C76.95,371.41 76.35,370.68 78.38,370.21 C80.41,369.73 85.77,369.54 89.11,369.16 C92.44,368.77 96.38,367.85 98.41,367.92 C100.43,367.98 101.14,368.96 101.26,369.53 C101.37,370.10 100.76,370.61 99.09,371.33 C97.41,372.04 94.08,373.27 91.21,373.81 C88.35,374.34 84.05,374.55 81.91,374.55 C79.78,374.55 79.21,374.23 78.38,373.81 C77.55,373.38 76.95,372.61 76.95,372.01 Z" fill="none" stroke="#505050" stroke-width="0.35" />
<path d="M80.61,371.80 C80.61,371.39 80.21,370.90 81.58,370.58 C82.95,370.26 86.59,370.13 88.85,369.87 C91.11,369.61 93.77,368.99 95.15,369.03 C96.52,369.07 97.00,369.74 97.08,370.12 C97.16,370.51 96.74,370.86 95.61,371.34 C94.47,371.82 92.21,372.65 90.27,373.02 C88.34,373.38 85.42,373.52 83.97,373.52 C82.53,373.52 82.14,373.31 81.58,373.02 C81.02,372.73 80.61,372.21 80.61,371.80 Z" fill="none" stroke="#555" stroke-width="0.3" />
<path d="M134.18,372.03 C134.26,370.84 133.07,368.93 135.71,367.95 C138.34,366.96 144.89,366.52 149.99,366.11 C155.09,365.70 162.82,365.28 166.31,365.50 C169.79,365.72 170.56,366.43 170.90,367.44 C171.24,368.44 170.98,370.33 168.35,371.52 C165.71,372.71 159.85,373.81 155.09,374.58 C150.33,375.34 143.10,376.02 139.79,376.11 C136.47,376.19 136.13,375.77 135.20,375.09 C134.26,374.41 134.09,373.22 134.18,372.03 Z" fill="none" stroke="#555" stroke-width="0.4" />
<path d="M134.50,372.00 C134.58,370.83 133.42,368.97 136.00,368.00 C138.58,367.03 145.00,366.60 150.00,366.20 C155.00,365.80 162.58,365.38 166.00,365.60 C169.42,365.82 170.17,366.52 170.50,367.50 C170.83,368.48 170.58,370.33 168.00,371.50 C165.42,372.67 159.67,373.75 155.00,374.50 C150.33,375.25 143.25,375.92 140.00,376.00 C136.75,376.08 136.42,375.67 135.50,375.00 C134.58,374.33 134.42,373.17 134.50,372.00 Z" fill="#1e1c1d" stroke="none" stroke-width="0.6" />
<path d="M137.40,371.77 C137.47,370.81 136.51,369.28 138.63,368.49 C140.75,367.69 146.01,367.34 150.11,367.01 C154.21,366.68 160.43,366.34 163.23,366.52 C166.03,366.70 166.65,367.27 166.92,368.08 C167.19,368.88 166.99,370.40 164.87,371.36 C162.75,372.31 158.04,373.20 154.21,373.82 C150.38,374.43 144.57,374.98 141.91,375.05 C139.25,375.11 138.97,374.77 138.22,374.23 C137.47,373.68 137.33,372.72 137.40,371.77 Z" fill="none" stroke="#585858" stroke-width="0.35" />
<path d="M140.62,371.51 C140.67,370.78 139.95,369.63 141.55,369.03 C143.15,368.43 147.13,368.16 150.23,367.91 C153.33,367.66 158.03,367.40 160.15,367.54 C162.27,367.67 162.74,368.11 162.94,368.72 C163.15,369.33 162.99,370.47 161.39,371.20 C159.79,371.92 156.23,372.59 153.33,373.06 C150.44,373.52 146.05,373.93 144.03,373.99 C142.02,374.04 141.81,373.78 141.24,373.37 C140.67,372.95 140.57,372.23 140.62,371.51 Z" fill="none" stroke="#505050" stroke-width="0.35" />
<path d="M143.84,371.25 C143.88,370.76 143.39,369.97 144.47,369.57 C145.56,369.16 148.25,368.98 150.35,368.81 C152.45,368.64 155.64,368.47 157.07,368.56 C158.51,368.65 158.82,368.94 158.96,369.36 C159.10,369.77 159.00,370.55 157.91,371.04 C156.83,371.53 154.41,371.98 152.45,372.30 C150.49,372.61 147.52,372.89 146.15,372.93 C144.79,372.96 144.65,372.79 144.26,372.51 C143.88,372.23 143.81,371.74 143.84,371.25 Z" fill="none" stroke="#555" stroke-width="0.3" />
<path d="M199.59,375.06 C199.59,373.96 199.08,372.00 201.63,370.98 C204.18,369.96 210.13,369.62 214.89,368.94 C219.65,368.26 225.94,367.36 230.19,366.90 C234.44,366.44 238.28,365.93 240.39,366.19 C242.50,366.44 243.01,367.46 242.84,368.43 C242.67,369.40 242.33,370.81 239.37,372.00 C236.41,373.19 230.02,374.58 225.09,375.57 C220.16,376.56 213.70,377.58 209.79,377.92 C205.88,378.26 203.33,378.09 201.63,377.61 C199.93,377.13 199.59,376.17 199.59,375.06 Z" fill="none" stroke="#555" stroke-width="0.4" />
<path d="M200.00,375.00 C200.00,373.92 199.50,372.00 202.00,371.00 C204.50,370.00 210.33,369.67 215.00,369.00 C219.67,368.33 225.83,367.45 230.00,367.00 C234.17,366.55 237.93,366.05 240.00,366.30 C242.07,366.55 242.57,367.55 242.40,368.50 C242.23,369.45 241.90,370.83 239.00,372.00 C236.10,373.17 229.83,374.53 225.00,375.50 C220.17,376.47 213.83,377.47 210.00,377.80 C206.17,378.13 203.67,377.97 202.00,377.50 C200.33,377.03 200.00,376.08 200.00,375.00 Z" fill="#1e1c1d" stroke="none" stroke-width="0.6" />
<path d="M203.70,374.45 C203.70,373.56 203.29,371.99 205.34,371.17 C207.39,370.35 212.17,370.08 216.00,369.53 C219.82,368.99 224.88,368.26 228.30,367.89 C231.71,367.52 234.80,367.11 236.50,367.32 C238.19,367.52 238.60,368.34 238.47,369.12 C238.33,369.90 238.06,371.04 235.68,371.99 C233.30,372.95 228.16,374.07 224.20,374.86 C220.23,375.66 215.04,376.48 211.90,376.75 C208.75,377.02 206.70,376.89 205.34,376.50 C203.97,376.12 203.70,375.34 203.70,374.45 Z" fill="none" stroke="#585858" stroke-width="0.35" />
<path d="M207.81,373.84 C207.81,373.17 207.50,371.98 209.05,371.36 C210.60,370.74 214.21,370.54 217.11,370.12 C220.00,369.71 223.82,369.16 226.41,368.88 C228.99,368.61 231.32,368.30 232.61,368.45 C233.89,368.61 234.20,369.23 234.09,369.81 C233.99,370.40 233.78,371.26 231.99,371.98 C230.19,372.71 226.30,373.56 223.31,374.15 C220.31,374.75 216.38,375.37 214.01,375.58 C211.63,375.79 210.08,375.68 209.05,375.39 C208.01,375.11 207.81,374.52 207.81,373.84 Z" fill="none" stroke="#505050" stroke-width="0.35" />
<path d="M211.91,373.24 C211.91,372.78 211.70,371.98 212.75,371.56 C213.80,371.14 216.25,371.00 218.21,370.72 C220.17,370.44 222.76,370.07 224.51,369.88 C226.26,369.69 227.85,369.48 228.71,369.58 C229.58,369.69 229.79,370.11 229.72,370.51 C229.65,370.91 229.51,371.49 228.29,371.98 C227.08,372.47 224.44,373.04 222.41,373.45 C220.38,373.85 217.72,374.27 216.11,374.41 C214.50,374.55 213.45,374.48 212.75,374.29 C212.05,374.09 211.91,373.69 211.91,373.24 Z" fill="none" stroke="#555" stroke-width="0.3" />
<path d="M74,371.5 L88,370.5" fill="none" stroke="#aaa" stroke-width="0.5" />
<path d="M92,369 L104,368" fill="none" stroke="#aaa" stroke-width="0.5" />
<path d="M138,370 L150,369" fill="none" stroke="#aaa" stroke-width="0.5" />
<path d="M204,373 L218,372" fill="none" stroke="#aaa" stroke-width="0.5" />
<text x="63" y="388.8" font-size="6.8" font-style="italic" textLength="13" lengthAdjust="spacingAndGlyphs" fill="#c9467a" >38%</text>
<text x="98.8" y="388.8" font-size="6.8" font-style="italic" textLength="12.5" lengthAdjust="spacingAndGlyphs" fill="#444" >41%</text>
<text x="124.7" y="389" font-size="6.8" font-style="italic" textLength="13" lengthAdjust="spacingAndGlyphs" fill="#c9467a" >62%</text>
<text x="164" y="389" font-size="6.8" font-style="italic" textLength="13" lengthAdjust="spacingAndGlyphs" fill="#444" >30%</text>
<text x="189.4" y="389" font-size="6.8" font-style="italic" textLength="13" lengthAdjust="spacingAndGlyphs" fill="#c9467a" >30%</text>
<text x="227.6" y="389" font-size="6.8" font-style="italic" textLength="13" lengthAdjust="spacingAndGlyphs" fill="#444" >38%</text>
<text x="248.9" y="393" font-size="7.2" textLength="22.9" lengthAdjust="spacingAndGlyphs" fill="#231f20" >UM171</text>
<text transform="translate(48.5,421.3) rotate(-90)" font-size="9" textLength="16.5" lengthAdjust="spacingAndGlyphs" fill="#231f20" stroke="#231f20" stroke-width="0.1" >CD34</text>
<text x="54.8" y="433.9" font-size="9" textLength="26.5" lengthAdjust="spacingAndGlyphs" fill="#231f20" stroke="#231f20" stroke-width="0.1" >CD45RA</text>
<path d="M67.27,481.49 C68.66,480.12 75.01,481.59 77.98,482.31 C80.95,483.04 82.72,483.65 85.09,485.82 C87.46,487.98 90.41,492.61 92.20,495.29 C93.98,497.97 94.01,500.39 95.80,501.88 C97.59,503.38 101.33,503.17 102.91,504.25 C104.49,505.34 105.67,507.09 105.28,508.37 C104.88,509.66 104.30,511.27 100.54,511.98 C96.78,512.68 86.87,512.80 82.72,512.60 C78.56,512.39 77.59,512.42 75.61,510.74 C73.64,509.06 71.87,505.87 70.87,502.50 C69.88,499.14 70.24,494.06 69.64,490.55 C69.04,487.05 65.88,482.86 67.27,481.49 Z" fill="none" stroke="#555" stroke-width="0.4" />
<path d="M67.80,482.00 C69.15,480.67 75.32,482.10 78.20,482.80 C81.08,483.50 82.80,484.10 85.10,486.20 C87.40,488.30 90.27,492.80 92.00,495.40 C93.73,498.00 93.77,500.35 95.50,501.80 C97.23,503.25 100.87,503.05 102.40,504.10 C103.93,505.15 105.08,506.85 104.70,508.10 C104.32,509.35 103.75,510.92 100.10,511.60 C96.45,512.28 86.83,512.40 82.80,512.20 C78.77,512.00 77.82,512.03 75.90,510.40 C73.98,508.77 72.27,505.67 71.30,502.40 C70.33,499.13 70.68,494.20 70.10,490.80 C69.52,487.40 66.45,483.33 67.80,482.00 Z" fill="#1e1c1d" stroke="none" stroke-width="0.6" />
<path d="M70.98,485.06 C72.09,483.96 77.15,485.14 79.51,485.71 C81.88,486.29 83.28,486.78 85.17,488.50 C87.06,490.22 89.41,493.91 90.83,496.04 C92.25,498.18 92.28,500.10 93.70,501.29 C95.12,502.48 98.10,502.32 99.36,503.18 C100.61,504.04 101.56,505.43 101.24,506.46 C100.93,507.48 100.46,508.77 97.47,509.33 C94.48,509.89 86.59,509.99 83.28,509.82 C79.98,509.66 79.20,509.68 77.63,508.34 C76.05,507.01 74.65,504.46 73.85,501.78 C73.06,499.11 73.35,495.06 72.87,492.27 C72.39,489.49 69.88,486.15 70.98,485.06 Z" fill="none" stroke="#585858" stroke-width="0.35" />
<path d="M74.52,488.45 C75.36,487.63 79.18,488.52 80.97,488.95 C82.76,489.38 83.82,489.76 85.25,491.06 C86.67,492.36 88.45,495.15 89.53,496.76 C90.60,498.37 90.62,499.83 91.70,500.73 C92.77,501.63 95.02,501.50 95.97,502.16 C96.93,502.81 97.64,503.86 97.40,504.64 C97.16,505.41 96.81,506.38 94.55,506.81 C92.29,507.23 86.32,507.30 83.82,507.18 C81.32,507.05 80.73,507.07 79.54,506.06 C78.36,505.05 77.29,503.13 76.69,501.10 C76.09,499.08 76.31,496.02 75.95,493.91 C75.59,491.80 73.69,489.28 74.52,488.45 Z" fill="none" stroke="#505050" stroke-width="0.35" />
<path d="M78.06,491.85 C78.63,491.29 81.22,491.89 82.43,492.19 C83.64,492.48 84.36,492.73 85.33,493.61 C86.29,494.50 87.50,496.39 88.23,497.48 C88.95,498.57 88.97,499.56 89.70,500.17 C90.42,500.78 91.95,500.69 92.59,501.13 C93.24,501.57 93.72,502.29 93.56,502.81 C93.40,503.34 93.16,504.00 91.63,504.28 C90.09,504.57 86.06,504.62 84.36,504.53 C82.67,504.45 82.27,504.46 81.46,503.78 C80.66,503.09 79.94,501.79 79.53,500.42 C79.13,499.05 79.27,496.97 79.03,495.55 C78.78,494.12 77.49,492.41 78.06,491.85 Z" fill="none" stroke="#555" stroke-width="0.3" />
<path d="M84.00,487.50 C85.00,487.33 88.33,491.75 90.00,494.00 C91.67,496.25 94.33,499.75 94.00,501.00 C93.67,502.25 89.67,502.50 88.00,501.50 C86.33,500.50 84.67,497.33 84.00,495.00 C83.33,492.67 83.00,487.67 84.00,487.50 Z" fill="#8a8a8a" stroke="none" stroke-width="0.6" />
<path d="M73.50,491.00 C73.50,489.75 74.58,488.33 75.00,488.50 C75.42,488.67 76.00,490.75 76.00,492.00 C76.00,493.25 75.42,496.17 75.00,496.00 C74.58,495.83 73.50,492.25 73.50,491.00 Z" fill="#eee" stroke="none" stroke-width="0.6" />
<path d="M75.00,500.00 C75.17,499.00 76.17,498.33 76.50,499.00 C76.83,499.67 77.17,503.00 77.00,504.00 C76.83,505.00 75.83,505.67 75.50,505.00 C75.17,504.33 74.83,501.00 75.00,500.00 Z" fill="#ccc" stroke="none" stroke-width="0.6" />
<path d="M128.63,476.45 C129.81,474.97 134.60,475.04 136.97,475.83 C139.34,476.62 140.27,479.11 142.84,481.19 C145.42,483.26 149.64,485.92 152.42,488.29 C155.20,490.66 157.16,493.01 159.53,495.40 C161.90,497.79 164.75,500.43 166.63,502.61 C168.52,504.79 170.86,506.90 170.86,508.48 C170.86,510.06 170.31,511.59 166.63,512.09 C162.96,512.58 153.16,512.07 148.82,511.47 C144.47,510.87 142.76,510.37 140.58,508.48 C138.40,506.59 137.52,504.10 135.73,500.14 C133.95,496.17 131.05,488.64 129.86,484.69 C128.68,480.74 127.44,477.92 128.63,476.45 Z" fill="none" stroke="#555" stroke-width="0.4" />
<path d="M129.20,477.00 C130.35,475.57 135.00,475.63 137.30,476.40 C139.60,477.17 140.50,479.58 143.00,481.60 C145.50,483.62 149.60,486.20 152.30,488.50 C155.00,490.80 156.90,493.08 159.20,495.40 C161.50,497.72 164.27,500.28 166.10,502.40 C167.93,504.52 170.20,506.57 170.20,508.10 C170.20,509.63 169.67,511.12 166.10,511.60 C162.53,512.08 153.02,511.58 148.80,511.00 C144.58,510.42 142.92,509.93 140.80,508.10 C138.68,506.27 137.83,503.85 136.10,500.00 C134.37,496.15 131.55,488.83 130.40,485.00 C129.25,481.17 128.05,478.43 129.20,477.00 Z" fill="#1e1c1d" stroke="none" stroke-width="0.6" />
<path d="M132.64,480.32 C133.58,479.14 137.39,479.20 139.28,479.82 C141.16,480.45 141.90,482.43 143.95,484.09 C146.00,485.74 149.36,487.86 151.58,489.75 C153.79,491.63 155.35,493.50 157.24,495.40 C159.12,497.30 161.39,499.41 162.89,501.14 C164.40,502.88 166.26,504.56 166.26,505.82 C166.26,507.08 165.82,508.29 162.89,508.69 C159.97,509.08 152.17,508.67 148.71,508.20 C145.25,507.72 143.88,507.32 142.15,505.82 C140.41,504.32 139.72,502.33 138.29,499.18 C136.87,496.02 134.56,490.02 133.62,486.88 C132.68,483.73 131.69,481.49 132.64,480.32 Z" fill="none" stroke="#585858" stroke-width="0.35" />
<path d="M136.45,484.00 C137.17,483.11 140.05,483.15 141.48,483.63 C142.90,484.10 143.46,485.60 145.01,486.85 C146.56,488.10 149.10,489.71 150.78,491.13 C152.45,492.56 153.63,493.97 155.05,495.41 C156.48,496.85 158.20,498.44 159.33,499.75 C160.47,501.06 161.87,502.33 161.87,503.28 C161.87,504.23 161.54,505.15 159.33,505.45 C157.12,505.75 151.22,505.44 148.61,505.08 C145.99,504.72 144.96,504.42 143.65,503.28 C142.33,502.15 141.81,500.65 140.73,498.26 C139.66,495.87 137.91,491.34 137.20,488.96 C136.49,486.58 135.74,484.89 136.45,484.00 Z" fill="none" stroke="#505050" stroke-width="0.35" />
<path d="M140.27,487.69 C140.76,487.08 142.71,487.11 143.68,487.43 C144.64,487.76 145.02,488.77 146.07,489.62 C147.12,490.47 148.84,491.55 149.98,492.52 C151.11,493.48 151.91,494.44 152.87,495.41 C153.84,496.39 155.00,497.47 155.77,498.35 C156.54,499.24 157.49,500.10 157.49,500.75 C157.49,501.39 157.27,502.02 155.77,502.22 C154.27,502.42 150.28,502.21 148.51,501.97 C146.73,501.72 146.03,501.52 145.15,500.75 C144.26,499.98 143.90,498.96 143.17,497.35 C142.44,495.73 141.26,492.66 140.78,491.05 C140.29,489.44 139.79,488.29 140.27,487.69 Z" fill="none" stroke="#555" stroke-width="0.3" />
<path d="M148.00,487.00 C149.17,486.67 153.50,491.50 156.00,494.00 C158.50,496.50 163.17,500.50 163.00,502.00 C162.83,503.50 157.33,504.00 155.00,503.00 C152.67,502.00 150.17,498.67 149.00,496.00 C147.83,493.33 146.83,487.33 148.00,487.00 Z" fill="#8a8a8a" stroke="none" stroke-width="0.6" />
<path d="M140.50,490.00 C140.58,489.00 141.58,487.67 142.00,488.00 C142.42,488.33 143.08,491.00 143.00,492.00 C142.92,493.00 141.92,494.33 141.50,494.00 C141.08,493.67 140.42,491.00 140.50,490.00 Z" fill="#eee" stroke="none" stroke-width="0.6" />
<path d="M198.70,483.90 C200.43,481.68 206.22,482.92 209.10,483.30 C211.98,483.68 213.70,484.18 216.00,486.20 C218.30,488.22 220.60,492.52 222.90,495.40 C225.20,498.28 228.07,501.38 229.80,503.50 C231.53,505.62 233.30,506.75 233.30,508.10 C233.30,509.45 234.80,511.12 229.80,511.60 C224.80,512.08 208.10,511.77 203.30,511.00 C198.50,510.23 201.77,509.40 201.00,507.00 C200.23,504.60 199.08,500.45 198.70,496.60 C198.32,492.75 196.97,486.12 198.70,483.90 Z" fill="#1e1c1d" stroke="none" stroke-width="0.6" />
<path d="M198.23,483.46 C200.02,481.17 205.98,482.44 208.95,482.84 C211.92,483.23 213.68,483.75 216.05,485.83 C218.42,487.90 220.79,492.33 223.16,495.30 C225.53,498.27 228.48,501.47 230.27,503.65 C232.05,505.83 233.87,506.99 233.87,508.38 C233.87,509.77 235.42,511.49 230.27,511.99 C225.12,512.49 207.92,512.16 202.97,511.37 C198.03,510.58 201.39,509.72 200.60,507.25 C199.81,504.78 198.63,500.50 198.23,496.54 C197.84,492.57 196.45,485.74 198.23,483.46 Z" fill="none" stroke="#555" stroke-width="0.4" />
<path d="M214.00,488.00 C215.00,487.83 218.00,492.50 220.00,495.00 C222.00,497.50 226.17,501.67 226.00,503.00 C225.83,504.33 221.00,504.17 219.00,503.00 C217.00,501.83 214.83,498.50 214.00,496.00 C213.17,493.50 213.00,488.17 214.00,488.00 Z" fill="#8a8a8a" stroke="none" stroke-width="0.6" />
<path d="M206.00,491.00 C206.17,490.25 207.50,489.25 208.00,489.50 C208.50,489.75 209.17,491.75 209.00,492.50 C208.83,493.25 207.50,494.25 207.00,494.00 C206.50,493.75 205.83,491.75 206.00,491.00 Z" fill="#eee" stroke="none" stroke-width="0.6" />
<text x="80.5" y="477" font-size="7.2" font-style="italic" textLength="14.5" lengthAdjust="spacingAndGlyphs" fill="#c9467a" >1.3%</text>
<text x="148.6" y="477.8" font-size="7.2" font-style="italic" textLength="15.4" lengthAdjust="spacingAndGlyphs" fill="#c9467a" >6.1%</text>
<text x="212" y="477.8" font-size="7.2" font-style="italic" textLength="16.3" lengthAdjust="spacingAndGlyphs" fill="#c9467a" >0.5%</text>
<text x="248.9" y="494" font-size="7.2" textLength="21" lengthAdjust="spacingAndGlyphs" fill="#231f20" >DMSO</text>
<path d="M65.16,542.21 C66.15,540.61 69.79,540.39 72.37,540.97 C74.94,541.55 78.24,544.11 80.61,545.71 C82.98,547.30 85.19,548.37 86.58,550.55 C87.97,552.73 88.95,555.03 88.95,558.79 C88.95,562.55 87.97,569.93 86.58,573.11 C85.19,576.28 82.58,577.16 80.61,577.84 C78.63,578.53 76.11,577.83 74.74,577.23 C73.36,576.62 72.97,577.10 72.37,574.24 C71.77,571.37 72.13,563.97 71.13,560.02 C70.14,556.08 67.39,553.52 66.40,550.55 C65.40,547.58 64.16,543.80 65.16,542.21 Z" fill="none" stroke="#666" stroke-width="0.4" />
<path d="M65.50,542.70 C66.47,541.15 70.00,540.93 72.50,541.50 C75.00,542.07 78.20,544.55 80.50,546.10 C82.80,547.65 84.95,548.68 86.30,550.80 C87.65,552.92 88.60,555.15 88.60,558.80 C88.60,562.45 87.65,569.62 86.30,572.70 C84.95,575.78 82.42,576.63 80.50,577.30 C78.58,577.97 76.13,577.28 74.80,576.70 C73.47,576.12 73.08,576.58 72.50,573.80 C71.92,571.02 72.27,563.83 71.30,560.00 C70.33,556.17 67.67,553.68 66.70,550.80 C65.73,547.92 64.53,544.25 65.50,542.70 Z" fill="#1e1c1d" stroke="none" stroke-width="0.6" />
<path d="M67.55,545.67 C68.34,544.40 71.24,544.22 73.29,544.69 C75.34,545.15 77.96,547.19 79.85,548.46 C81.73,549.73 83.49,550.58 84.60,552.31 C85.71,554.05 86.49,555.88 86.49,558.87 C86.49,561.87 85.71,567.74 84.60,570.27 C83.49,572.80 81.42,573.50 79.85,574.04 C78.27,574.59 76.26,574.03 75.17,573.55 C74.08,573.07 73.76,573.45 73.29,571.17 C72.81,568.89 73.09,563.00 72.30,559.86 C71.51,556.71 69.32,554.68 68.53,552.31 C67.74,549.95 66.75,546.94 67.55,545.67 Z" fill="none" stroke="#585858" stroke-width="0.35" />
<path d="M69.82,548.97 C70.42,548.01 72.61,547.87 74.16,548.23 C75.71,548.58 77.69,550.12 79.12,551.08 C80.54,552.04 81.88,552.68 82.71,553.99 C83.55,555.30 84.14,556.69 84.14,558.95 C84.14,561.22 83.55,565.66 82.71,567.57 C81.88,569.48 80.31,570.01 79.12,570.42 C77.93,570.84 76.41,570.41 75.58,570.05 C74.76,569.69 74.52,569.98 74.16,568.25 C73.80,566.53 74.01,562.07 73.41,559.70 C72.81,557.32 71.16,555.78 70.56,553.99 C69.96,552.20 69.22,549.93 69.82,548.97 Z" fill="none" stroke="#505050" stroke-width="0.35" />
<path d="M72.09,552.27 C72.50,551.62 73.98,551.53 75.03,551.77 C76.08,552.00 77.42,553.05 78.39,553.70 C79.36,554.35 80.26,554.78 80.83,555.67 C81.39,556.56 81.79,557.50 81.79,559.03 C81.79,560.56 81.39,563.58 80.83,564.87 C80.26,566.16 79.20,566.52 78.39,566.80 C77.59,567.08 76.56,566.79 76.00,566.55 C75.44,566.30 75.28,566.50 75.03,565.33 C74.79,564.16 74.93,561.15 74.53,559.54 C74.12,557.93 73.00,556.88 72.59,555.67 C72.19,554.46 71.68,552.92 72.09,552.27 Z" fill="none" stroke="#555" stroke-width="0.3" />
<path d="M73.00,566.00 C73.92,564.17 78.00,564.00 80.00,564.00 C82.00,564.00 84.33,564.33 85.00,566.00 C85.67,567.67 85.00,572.25 84.00,574.00 C83.00,575.75 80.58,576.33 79.00,576.50 C77.42,576.67 75.50,576.75 74.50,575.00 C73.50,573.25 72.08,567.83 73.00,566.00 Z" fill="#555" stroke="none" stroke-width="0.6" />
<path d="M77.00,556.00 C77.17,555.00 78.17,553.50 78.50,554.00 C78.83,554.50 79.17,558.00 79.00,559.00 C78.83,560.00 77.83,560.50 77.50,560.00 C77.17,559.50 76.83,557.00 77.00,556.00 Z" fill="#ddd" stroke="none" stroke-width="0.6" />
<path d="M128.83,540.00 C129.81,538.46 133.76,537.94 135.94,537.84 C138.12,537.73 139.92,538.23 141.91,539.38 C143.90,540.53 146.20,542.66 147.88,544.74 C149.57,546.82 151.42,549.27 152.00,551.85 C152.59,554.42 152.07,557.22 151.39,560.19 C150.70,563.16 149.07,567.38 147.88,569.66 C146.70,571.95 145.46,574.08 144.28,573.89 C143.10,573.70 142.17,571.21 140.78,568.53 C139.39,565.85 137.72,561.39 135.94,557.82 C134.15,554.25 131.25,550.08 130.07,547.11 C128.88,544.14 127.85,541.55 128.83,540.00 Z" fill="none" stroke="#666" stroke-width="0.4" />
<path d="M129.20,540.40 C130.15,538.90 133.98,538.40 136.10,538.30 C138.22,538.20 139.97,538.68 141.90,539.80 C143.83,540.92 146.07,542.98 147.70,545.00 C149.33,547.02 151.13,549.40 151.70,551.90 C152.27,554.40 151.77,557.12 151.10,560.00 C150.43,562.88 148.85,566.98 147.70,569.20 C146.55,571.42 145.35,573.48 144.20,573.30 C143.05,573.12 142.15,570.70 140.80,568.10 C139.45,565.50 137.83,561.17 136.10,557.70 C134.37,554.23 131.55,550.18 130.40,547.30 C129.25,544.42 128.25,541.90 129.20,540.40 Z" fill="#1e1c1d" stroke="none" stroke-width="0.6" />
<path d="M131.42,542.80 C132.20,541.57 135.34,541.16 137.08,541.08 C138.81,540.99 140.25,541.39 141.83,542.31 C143.42,543.22 145.25,544.92 146.59,546.57 C147.93,548.22 149.41,550.18 149.87,552.23 C150.34,554.28 149.93,556.51 149.38,558.87 C148.83,561.24 147.53,564.60 146.59,566.41 C145.65,568.23 144.66,569.93 143.72,569.78 C142.78,569.63 142.04,567.64 140.93,565.51 C139.83,563.38 138.50,559.83 137.08,556.98 C135.66,554.14 133.35,550.82 132.40,548.46 C131.46,546.09 130.64,544.03 131.42,542.80 Z" fill="none" stroke="#585858" stroke-width="0.35" />
<path d="M133.89,545.46 C134.48,544.53 136.85,544.22 138.17,544.16 C139.48,544.10 140.56,544.40 141.76,545.09 C142.96,545.78 144.35,547.07 145.36,548.32 C146.37,549.57 147.49,551.04 147.84,552.59 C148.19,554.14 147.88,555.83 147.47,557.62 C147.05,559.40 146.07,561.95 145.36,563.32 C144.64,564.69 143.90,565.98 143.19,565.86 C142.47,565.75 141.92,564.25 141.08,562.64 C140.24,561.03 139.24,558.34 138.17,556.19 C137.09,554.04 135.34,551.53 134.63,549.74 C133.92,547.95 133.30,546.39 133.89,545.46 Z" fill="none" stroke="#505050" stroke-width="0.35" />
<path d="M136.36,548.13 C136.75,547.50 138.36,547.29 139.25,547.25 C140.14,547.21 140.88,547.41 141.69,547.88 C142.50,548.35 143.44,549.21 144.13,550.06 C144.81,550.91 145.57,551.91 145.81,552.96 C146.04,554.01 145.83,555.15 145.55,556.36 C145.27,557.57 144.61,559.29 144.13,560.23 C143.64,561.16 143.14,562.02 142.66,561.95 C142.17,561.87 141.79,560.86 141.23,559.76 C140.66,558.67 139.98,556.85 139.25,555.40 C138.53,553.94 137.34,552.24 136.86,551.03 C136.38,549.82 135.96,548.76 136.36,548.13 Z" fill="none" stroke="#555" stroke-width="0.3" />
<path d="M139.00,560.00 C139.83,558.33 144.17,557.83 146.00,558.00 C147.83,558.17 149.75,559.17 150.00,561.00 C150.25,562.83 148.47,567.00 147.50,569.00 C146.53,571.00 145.28,573.17 144.20,573.00 C143.12,572.83 141.87,570.17 141.00,568.00 C140.13,565.83 138.17,561.67 139.00,560.00 Z" fill="#666" stroke="none" stroke-width="0.6" />
<ellipse cx="144" cy="567" rx="2.5" ry="1.8" fill="none" stroke="#333" stroke-width="0.4"/>
<ellipse cx="144" cy="571" rx="2.5" ry="1.8" fill="none" stroke="#333" stroke-width="0.4"/>
<path d="M135.00,544.00 C135.17,543.42 136.17,542.67 136.50,543.00 C136.83,543.33 137.17,545.42 137.00,546.00 C136.83,546.58 135.83,546.83 135.50,546.50 C135.17,546.17 134.83,544.58 135.00,544.00 Z" fill="#fff" stroke="none" stroke-width="0.6" />
<path d="M200.03,543.92 C200.24,541.34 201.18,542.80 204.26,543.30 C207.33,543.80 214.92,545.31 218.47,546.91 C222.02,548.50 224.08,550.30 225.58,552.88 C227.07,555.45 227.62,558.80 227.43,562.36 C227.24,565.91 226.73,571.73 224.44,574.20 C222.16,576.67 216.91,576.79 213.73,577.19 C210.56,577.58 207.07,578.05 205.39,576.57 C203.71,575.09 204.03,571.30 203.64,568.33 C203.24,565.36 203.62,562.82 203.02,558.75 C202.42,554.68 199.83,546.49 200.03,543.92 Z" fill="none" stroke="#666" stroke-width="0.4" />
<path d="M200.40,544.40 C200.60,541.90 201.52,543.32 204.50,543.80 C207.48,544.28 214.85,545.75 218.30,547.30 C221.75,548.85 223.75,550.60 225.20,553.10 C226.65,555.60 227.18,558.85 227.00,562.30 C226.82,565.75 226.32,571.40 224.10,573.80 C221.88,576.20 216.78,576.32 213.70,576.70 C210.62,577.08 207.23,577.53 205.60,576.10 C203.97,574.67 204.28,570.98 203.90,568.10 C203.52,565.22 203.88,562.75 203.30,558.80 C202.72,554.85 200.20,546.90 200.40,544.40 Z" fill="#1e1c1d" stroke="none" stroke-width="0.6" />
<path d="M202.60,547.29 C202.76,545.24 203.51,546.40 205.96,546.80 C208.40,547.19 214.44,548.39 217.27,549.67 C220.10,550.94 221.74,552.37 222.93,554.42 C224.12,556.47 224.56,559.14 224.41,561.97 C224.26,564.79 223.85,569.43 222.03,571.40 C220.21,573.36 216.03,573.46 213.50,573.77 C210.97,574.09 208.20,574.46 206.86,573.28 C205.52,572.11 205.78,569.09 205.47,566.72 C205.15,564.36 205.45,562.33 204.97,559.10 C204.50,555.86 202.43,549.34 202.60,547.29 Z" fill="none" stroke="#585858" stroke-width="0.35" />
<path d="M205.04,550.50 C205.16,548.95 205.73,549.82 207.58,550.12 C209.43,550.42 214.00,551.33 216.13,552.29 C218.27,553.25 219.51,554.34 220.41,555.89 C221.31,557.44 221.64,559.45 221.53,561.59 C221.41,563.73 221.10,567.24 219.73,568.72 C218.36,570.21 215.19,570.28 213.28,570.52 C211.37,570.76 209.27,571.04 208.26,570.15 C207.25,569.26 207.44,566.98 207.21,565.19 C206.97,563.40 207.20,561.87 206.83,559.42 C206.47,556.97 204.91,552.05 205.04,550.50 Z" fill="none" stroke="#505050" stroke-width="0.35" />
<path d="M207.48,553.70 C207.56,552.65 207.94,553.25 209.20,553.45 C210.45,553.65 213.55,554.27 214.99,554.92 C216.44,555.57 217.28,556.31 217.89,557.36 C218.50,558.41 218.72,559.77 218.65,561.22 C218.57,562.67 218.36,565.04 217.43,566.05 C216.50,567.06 214.36,567.11 213.06,567.27 C211.77,567.43 210.35,567.62 209.66,567.02 C208.97,566.42 209.11,564.87 208.95,563.66 C208.78,562.45 208.94,561.41 208.69,559.75 C208.45,558.09 207.39,554.75 207.48,553.70 Z" fill="none" stroke="#555" stroke-width="0.3" />
<path d="M206.00,568.00 C207.00,566.50 210.00,566.00 212.00,566.00 C214.00,566.00 216.67,566.67 218.00,568.00 C219.33,569.33 221.00,572.67 220.00,574.00 C219.00,575.33 214.33,575.83 212.00,576.00 C209.67,576.17 207.00,576.33 206.00,575.00 C205.00,573.67 205.00,569.50 206.00,568.00 Z" fill="#555" stroke="none" stroke-width="0.6" />
<path d="M212.00,553.00 C212.17,552.08 213.50,551.00 214.00,551.50 C214.50,552.00 215.17,555.08 215.00,556.00 C214.83,556.92 213.50,557.50 213.00,557.00 C212.50,556.50 211.83,553.92 212.00,553.00 Z" fill="#ccc" stroke="none" stroke-width="0.6" />
<path d="M221.00,556.00 C221.33,554.67 223.33,554.00 224.00,555.00 C224.67,556.00 225.33,560.67 225.00,562.00 C224.67,563.33 222.67,564.00 222.00,563.00 C221.33,562.00 220.67,557.33 221.00,556.00 Z" fill="#666" stroke="none" stroke-width="0.6" />
<text x="89.8" y="545" font-size="7.2" font-style="italic" textLength="12.1" lengthAdjust="spacingAndGlyphs" fill="#c9467a" >14%</text>
<text x="157.4" y="544.8" font-size="7.2" font-style="italic" textLength="13" lengthAdjust="spacingAndGlyphs" fill="#c9467a" >43%</text>
<text x="222.7" y="543" font-size="7.2" font-style="italic" textLength="15.3" lengthAdjust="spacingAndGlyphs" fill="#c9467a" >3.8%</text>
<text x="248.9" y="561" font-size="7.2" textLength="22.9" lengthAdjust="spacingAndGlyphs" fill="#231f20" >UM171</text>
<text transform="translate(48.5,590.5) rotate(-90)" font-size="9" textLength="16.5" lengthAdjust="spacingAndGlyphs" fill="#231f20" stroke="#231f20" stroke-width="0.1" >CD90</text>
<text x="54.5" y="603.8" font-size="9" textLength="18" lengthAdjust="spacingAndGlyphs" fill="#231f20" stroke="#231f20" stroke-width="0.1" >CD71</text>
<rect x="55.5" y="468.5" width="21.0" height="15.0" fill="none" stroke="#cf6f8f" stroke-width="1"/>
<rect x="55.5" y="534.5" width="21.0" height="15.0" fill="none" stroke="#cf6f8f" stroke-width="1"/>
<rect x="120.5" y="468.5" width="21.0" height="15.0" fill="none" stroke="#cf6f8f" stroke-width="1"/>
<rect x="120.5" y="534.5" width="21.0" height="15.0" fill="none" stroke="#cf6f8f" stroke-width="1"/>
<rect x="186.5" y="468.5" width="21.0" height="15.0" fill="none" stroke="#cf6f8f" stroke-width="1"/>
<rect x="186.5" y="534.5" width="21.0" height="15.0" fill="none" stroke="#cf6f8f" stroke-width="1"/>
<text x="282.5" y="246.2" font-size="11.5" font-weight="bold" textLength="9.5" lengthAdjust="spacingAndGlyphs" fill="#231f20" stroke="#231f20" stroke-width="0.35" >D</text>
<text x="360" y="257.5" font-size="7.2" textLength="20.5" lengthAdjust="spacingAndGlyphs" fill="#231f20" >DMSO</text>
<text x="447.3" y="257.3" font-size="7.2" textLength="21.9" lengthAdjust="spacingAndGlyphs" fill="#231f20" >UM171</text>
<rect x="332.8" y="268.04999999999995" width="20.69999999999999" height="87.35000000000002" fill="#c6c5c8"/>
<rect x="332.8" y="315.83045" width="20.69999999999999" height="39.56954999999999" fill="#c2681c"/>
<rect x="332.8" y="318.01419999999996" width="20.69999999999999" height="37.38580000000002" fill="#2eaae1"/>
<rect x="332.8" y="321.77025" width="20.69999999999999" height="33.62975" fill="#3aaa35"/>
<rect x="342.5" y="266.7" width="1.2" height="2" fill="#222"/>
<rect x="342.5" y="314.5" width="1.2" height="2" fill="#222"/>
<rect x="342.5" y="316.7" width="1.2" height="2" fill="#222"/>
<rect x="342.5" y="320.5" width="1.2" height="2" fill="#222"/>
<rect x="360.5" y="268.04999999999995" width="20.30000000000001" height="87.35000000000002" fill="#c6c5c8"/>
<rect x="360.5" y="313.1226" width="20.30000000000001" height="42.2774" fill="#c2681c"/>
<rect x="360.5" y="317.05334999999997" width="20.30000000000001" height="38.34665000000001" fill="#2eaae1"/>
<rect x="360.5" y="321.24614999999994" width="20.30000000000001" height="34.153850000000034" fill="#3aaa35"/>
<rect x="370.0" y="266.7" width="1.2" height="2" fill="#222"/>
<rect x="370.0" y="311.8" width="1.2" height="2" fill="#222"/>
<rect x="370.0" y="315.8" width="1.2" height="2" fill="#222"/>
<rect x="370.0" y="319.9" width="1.2" height="2" fill="#222"/>
<rect x="387.7" y="268.04999999999995" width="20.80000000000001" height="87.35000000000002" fill="#c6c5c8"/>
<rect x="387.7" y="319.41179999999997" width="20.80000000000001" height="35.988200000000006" fill="#c2681c"/>
<rect x="387.7" y="321.77025" width="20.80000000000001" height="33.62975" fill="#2eaae1"/>
<rect x="387.7" y="326.31244999999996" width="20.80000000000001" height="29.08755000000002" fill="#3aaa35"/>
<rect x="397.5" y="266.7" width="1.2" height="2" fill="#222"/>
<rect x="397.5" y="318.1" width="1.2" height="2" fill="#222"/>
<rect x="397.5" y="320.5" width="1.2" height="2" fill="#222"/>
<rect x="397.5" y="325.0" width="1.2" height="2" fill="#222"/>
<rect x="420.3" y="268.04999999999995" width="20.69999999999999" height="87.35000000000002" fill="#c6c5c8"/>
<rect x="420.3" y="281.76394999999997" width="20.69999999999999" height="73.63605000000001" fill="#c2681c"/>
<rect x="420.3" y="295.30319999999995" width="20.69999999999999" height="60.09680000000003" fill="#2eaae1"/>
<rect x="420.3" y="319.49915" width="20.69999999999999" height="35.90084999999999" fill="#3aaa35"/>
<rect x="430.0" y="266.7" width="1.2" height="2" fill="#222"/>
<rect x="430.0" y="280.5" width="1.2" height="2" fill="#222"/>
<rect x="430.0" y="294.0" width="1.2" height="2" fill="#222"/>
<rect x="430.0" y="318.2" width="1.2" height="2" fill="#222"/>
<rect x="448" y="268.04999999999995" width="20.80000000000001" height="87.35000000000002" fill="#c6c5c8"/>
<rect x="448" y="279.92959999999994" width="20.80000000000001" height="75.47040000000004" fill="#c2681c"/>
<rect x="448" y="307.8816" width="20.80000000000001" height="47.518399999999986" fill="#2eaae1"/>
<rect x="448" y="327.7974" width="20.80000000000001" height="27.602599999999995" fill="#3aaa35"/>
<rect x="457.8" y="266.7" width="1.2" height="2" fill="#222"/>
<rect x="457.8" y="278.6" width="1.2" height="2" fill="#222"/>
<rect x="457.8" y="306.6" width="1.2" height="2" fill="#222"/>
<rect x="457.8" y="326.5" width="1.2" height="2" fill="#222"/>
<rect x="475.7" y="268.04999999999995" width="20.80000000000001" height="87.35000000000002" fill="#c6c5c8"/>
<rect x="475.7" y="296.1767" width="20.80000000000001" height="59.223299999999995" fill="#c2681c"/>
<rect x="475.7" y="299.8454" width="20.80000000000001" height="55.55459999999999" fill="#2eaae1"/>
<rect x="475.7" y="322.11965" width="20.80000000000001" height="33.28035" fill="#3aaa35"/>
<rect x="485.5" y="266.7" width="1.2" height="2" fill="#222"/>
<rect x="485.5" y="294.9" width="1.2" height="2" fill="#222"/>
<rect x="485.5" y="298.5" width="1.2" height="2" fill="#222"/>
<rect x="485.5" y="320.8" width="1.2" height="2" fill="#222"/>
<line x1="330.5" y1="263" x2="330.5" y2="356" stroke="#231f20" stroke-width="1"/>
<line x1="329.4" y1="355.5" x2="414.5" y2="355.5" stroke="#231f20" stroke-width="1"/>
<line x1="414.5" y1="262.4" x2="414.5" y2="355.9" stroke="#231f20" stroke-width="1"/>
<line x1="415" y1="355.5" x2="499" y2="355.5" stroke="#231f20" stroke-width="1"/>
<line x1="326.5" y1="355.5" x2="330.2" y2="355.5" stroke="#231f20" stroke-width="0.8"/>
<text x="323.5" y="357.79999999999995" font-size="7" textLength="8.8" lengthAdjust="spacingAndGlyphs" text-anchor="end" fill="#333" >0%</text>
<line x1="326.5" y1="337.5" x2="330.2" y2="337.5" stroke="#231f20" stroke-width="0.8"/>
<text x="323.5" y="340.3299999999999" font-size="7" textLength="12.7" lengthAdjust="spacingAndGlyphs" text-anchor="end" fill="#333" >20%</text>
<line x1="326.5" y1="320.5" x2="330.2" y2="320.5" stroke="#231f20" stroke-width="0.8"/>
<text x="323.5" y="322.85999999999996" font-size="7" textLength="12.7" lengthAdjust="spacingAndGlyphs" text-anchor="end" fill="#333" >40%</text>
<line x1="326.5" y1="302.5" x2="330.2" y2="302.5" stroke="#231f20" stroke-width="0.8"/>
<text x="323.5" y="305.38999999999993" font-size="7" textLength="12.7" lengthAdjust="spacingAndGlyphs" text-anchor="end" fill="#333" >60%</text>
<line x1="326.5" y1="285.5" x2="330.2" y2="285.5" stroke="#231f20" stroke-width="0.8"/>
<text x="323.5" y="287.91999999999996" font-size="7" textLength="12.7" lengthAdjust="spacingAndGlyphs" text-anchor="end" fill="#333" >80%</text>
<line x1="326.5" y1="268.5" x2="330.2" y2="268.5" stroke="#231f20" stroke-width="0.8"/>
<text x="323.5" y="270.44999999999993" font-size="7" textLength="15.8" lengthAdjust="spacingAndGlyphs" text-anchor="end" fill="#333" >100%</text>
<text transform="translate(301.8,334.8) rotate(-90)" font-size="9.8" textLength="50.8" lengthAdjust="spacingAndGlyphs" fill="#333" >Cell distribution</text>
<text x="335.8" y="369.2" font-size="7.5" textLength="15.399999999999977" lengthAdjust="spacingAndGlyphs" fill="#231f20" >Total</text>
<text x="360.5" y="369.2" font-size="7.5" textLength="20.69999999999999" lengthAdjust="spacingAndGlyphs" fill="#231f20" >CD71<tspan dy="-3" font-size="4.5">lo</tspan><tspan dy="3"></tspan></text>
<text x="388.2" y="369.2" font-size="7.5" textLength="20.30000000000001" lengthAdjust="spacingAndGlyphs" fill="#231f20" >CD71<tspan dy="-3" font-size="4.5">hi</tspan><tspan dy="3"></tspan></text>
<text x="423" y="369.2" font-size="7.5" textLength="15.800000000000011" lengthAdjust="spacingAndGlyphs" fill="#231f20" >Total</text>
<text x="448" y="369.2" font-size="7.5" textLength="21.19999999999999" lengthAdjust="spacingAndGlyphs" fill="#231f20" >CD71<tspan dy="-3" font-size="4.5">lo</tspan><tspan dy="3"></tspan></text>
<text x="475.7" y="369.2" font-size="7.5" textLength="20.80000000000001" lengthAdjust="spacingAndGlyphs" fill="#231f20" >CD71<tspan dy="-3" font-size="4.5">hi</tspan><tspan dy="3"></tspan></text>
<rect x="334.8" y="376.6" width="4.8" height="4.6" fill="#c6c5c8"/>
<rect x="334.8" y="388.2" width="4.8" height="4.6" fill="#c2681c"/>
<rect x="419.5" y="376.4" width="4.8" height="4.6" fill="#3aaa35"/>
<rect x="419.5" y="388.0" width="4.8" height="4.6" fill="#2eaae1"/>
<text x="342.1" y="380.8" font-size="7.2" font-style="italic" textLength="48.7" lengthAdjust="spacingAndGlyphs" fill="#231f20" >CD34<tspan dy="-3" font-size="4.5">lo</tspan><tspan dy="3"> (mature)</tspan></text>
<text x="342.1" y="391.6" font-size="7.2" font-style="italic" textLength="72" lengthAdjust="spacingAndGlyphs" fill="#231f20" >CD34<tspan dy="-3" font-size="4.5">+</tspan><tspan dy="3">CD45RA<tspan dy="-3" font-size="4.5">lo</tspan><tspan dy="3">CD71<tspan dy="-3" font-size="4.5">lo</tspan><tspan dy="3"></tspan></tspan></tspan></text>
<text x="428.7" y="380.8" font-size="7.2" font-style="italic" textLength="49" lengthAdjust="spacingAndGlyphs" fill="#231f20" >CD34<tspan dy="-3" font-size="4.5">+</tspan><tspan dy="3">CD45RA<tspan dy="-3" font-size="4.5">+</tspan><tspan dy="3"></tspan></tspan></text>
<text x="428.7" y="391.6" font-size="7.2" font-style="italic" textLength="70" lengthAdjust="spacingAndGlyphs" fill="#231f20" >CD34<tspan dy="-3" font-size="4.5">+</tspan><tspan dy="3">CD45RA<tspan dy="-3" font-size="4.5">lo</tspan><tspan dy="3">CD71<tspan dy="-3" font-size="4.5">hi</tspan><tspan dy="3"></tspan></tspan></tspan></text>
<text x="306.5" y="415.7" font-size="11.5" font-weight="bold" textLength="7.7" lengthAdjust="spacingAndGlyphs" fill="#231f20" stroke="#231f20" stroke-width="0.35" >E</text>
<text x="369.2" y="416.9" font-size="9" textLength="102.2" lengthAdjust="spacingAndGlyphs" fill="#231f20" >Total Fold Change (day7)</text>
<text x="450.2" y="430.9" font-size="7" textLength="20.3" lengthAdjust="spacingAndGlyphs" fill="#1b4f8e" >DMSO</text>
<text x="450.2" y="441.3" font-size="7" textLength="20.3" lengthAdjust="spacingAndGlyphs" fill="#c8102e" >UM171</text>
<line x1="356.5" y1="512.5" x2="360.8" y2="512.5" stroke="#231f20" stroke-width="0.8"/>
<text x="354.5" y="514.7" font-size="7.2" textLength="3.8" lengthAdjust="spacingAndGlyphs" text-anchor="end" fill="#231f20" >0</text>
<line x1="356.5" y1="501.5" x2="360.8" y2="501.5" stroke="#231f20" stroke-width="0.8"/>
<text x="354.5" y="504.59000000000003" font-size="7.2" textLength="8" lengthAdjust="spacingAndGlyphs" text-anchor="end" fill="#231f20" >10</text>
<line x1="356.5" y1="491.5" x2="360.8" y2="491.5" stroke="#231f20" stroke-width="0.8"/>
<text x="354.5" y="494.48" font-size="7.2" textLength="8" lengthAdjust="spacingAndGlyphs" text-anchor="end" fill="#231f20" >20</text>
<line x1="356.5" y1="481.5" x2="360.8" y2="481.5" stroke="#231f20" stroke-width="0.8"/>
<text x="354.5" y="484.37000000000006" font-size="7.2" textLength="8" lengthAdjust="spacingAndGlyphs" text-anchor="end" fill="#231f20" >30</text>
<line x1="356.5" y1="471.5" x2="360.8" y2="471.5" stroke="#231f20" stroke-width="0.8"/>
<text x="354.5" y="474.26000000000005" font-size="7.2" textLength="8" lengthAdjust="spacingAndGlyphs" text-anchor="end" fill="#231f20" >40</text>
<line x1="356.5" y1="461.5" x2="360.8" y2="461.5" stroke="#231f20" stroke-width="0.8"/>
<text x="354.5" y="464.15000000000003" font-size="7.2" textLength="8" lengthAdjust="spacingAndGlyphs" text-anchor="end" fill="#231f20" >50</text>
<line x1="356.5" y1="451.5" x2="360.8" y2="451.5" stroke="#231f20" stroke-width="0.8"/>
<text x="354.5" y="454.0400000000001" font-size="7.2" textLength="8" lengthAdjust="spacingAndGlyphs" text-anchor="end" fill="#231f20" >60</text>
<line x1="356.5" y1="441.5" x2="360.8" y2="441.5" stroke="#231f20" stroke-width="0.8"/>
<text x="354.5" y="443.93000000000006" font-size="7.2" textLength="8" lengthAdjust="spacingAndGlyphs" text-anchor="end" fill="#231f20" >70</text>
<line x1="356.5" y1="431.5" x2="360.8" y2="431.5" stroke="#231f20" stroke-width="0.8"/>
<text x="354.5" y="433.82000000000005" font-size="7.2" textLength="8" lengthAdjust="spacingAndGlyphs" text-anchor="end" fill="#231f20" >80</text>
<line x1="360.5" y1="422.5" x2="360.5" y2="512.5" stroke="#231f20" stroke-width="1"/>
<line x1="360.3" y1="512.5" x2="479.4" y2="512.5" stroke="#231f20" stroke-width="1"/>
<line x1="382.2" y1="512.1" x2="382.2" y2="515.2" stroke="#231f20" stroke-width="0.9"/>
<line x1="419.4" y1="512.1" x2="419.4" y2="515.2" stroke="#231f20" stroke-width="0.9"/>
<line x1="456" y1="512.1" x2="456" y2="515.2" stroke="#231f20" stroke-width="0.9"/>
<text transform="translate(341.1,485.8) rotate(-90)" font-size="9.8" textLength="37.5" lengthAdjust="spacingAndGlyphs" fill="#333" >Fold change</text>
<rect x="371.4" y="441.33000000000004" width="10.800000000000011" height="70.76999999999998" fill="#1b4f8e"/>
<line x1="376.79999999999995" y1="436.47720000000004" x2="376.79999999999995" y2="446.18280000000004" stroke="#333" stroke-width="0.8"/>
<line x1="375.29999999999995" y1="436.47720000000004" x2="378.29999999999995" y2="436.47720000000004" stroke="#333" stroke-width="0.8"/>
<rect x="382.2" y="459.528" width="11.600000000000023" height="52.572" fill="#c8102e"/>
<line x1="388.0" y1="458.0115" x2="388.0" y2="461.0445" stroke="#333" stroke-width="0.8"/>
<line x1="386.5" y1="458.0115" x2="389.5" y2="458.0115" stroke="#333" stroke-width="0.8"/>
<rect x="408.3" y="465.59400000000005" width="11.099999999999966" height="46.50599999999997" fill="#1b4f8e"/>
<line x1="413.85" y1="464.98740000000004" x2="413.85" y2="466.2006" stroke="#333" stroke-width="0.8"/>
<line x1="412.35" y1="464.98740000000004" x2="415.35" y2="464.98740000000004" stroke="#333" stroke-width="0.8"/>
<rect x="419.4" y="489.3525" width="11.400000000000034" height="22.747500000000002" fill="#c8102e"/>
<line x1="425.1" y1="487.33050000000003" x2="425.1" y2="491.3745" stroke="#333" stroke-width="0.8"/>
<line x1="423.6" y1="487.33050000000003" x2="426.6" y2="487.33050000000003" stroke="#333" stroke-width="0.8"/>
<rect x="444.6" y="448.40700000000004" width="11.399999999999977" height="63.692999999999984" fill="#1b4f8e"/>
<line x1="450.3" y1="447.1938" x2="450.3" y2="449.6202" stroke="#333" stroke-width="0.8"/>
<line x1="448.8" y1="447.1938" x2="451.8" y2="447.1938" stroke="#333" stroke-width="0.8"/>
<rect x="456" y="455.48400000000004" width="11" height="56.615999999999985" fill="#c8102e"/>
<line x1="461.5" y1="452.451" x2="461.5" y2="458.51700000000005" stroke="#333" stroke-width="0.8"/>
<line x1="460.0" y1="452.451" x2="463.0" y2="452.451" stroke="#333" stroke-width="0.8"/>
<line x1="413.8" y1="459.5" x2="429.2" y2="459.5" stroke="#777" stroke-width="0.9"/>
<text x="421.8" y="459.6" font-size="8" textLength="7.5" lengthAdjust="spacingAndGlyphs" text-anchor="middle" fill="#231f20" >**</text>
<text x="375.4" y="524.6" font-size="7.5" textLength="14.8" lengthAdjust="spacingAndGlyphs" fill="#231f20" >Total</text>
<text x="408.6" y="524.6" font-size="7.5" textLength="22.2" lengthAdjust="spacingAndGlyphs" fill="#231f20" >CD71<tspan dy="-3" font-size="4.5">lo</tspan><tspan dy="3"></tspan></text>
<text x="445.5" y="524.6" font-size="7.5" textLength="20.7" lengthAdjust="spacingAndGlyphs" fill="#231f20" >CD71<tspan dy="-3" font-size="4.5">hi</tspan><tspan dy="3"></tspan></text>
<text x="307" y="545.8" font-size="11.5" font-weight="bold" textLength="6.5" lengthAdjust="spacingAndGlyphs" fill="#231f20" stroke="#231f20" stroke-width="0.35" >F</text>
<text x="366" y="542.1" font-size="9" textLength="114.2" lengthAdjust="spacingAndGlyphs" fill="#231f20" >Absolute cell counts at Day7</text>
<text x="345.2" y="553.5" font-size="9" textLength="154.8" lengthAdjust="spacingAndGlyphs" fill="#231f20" >CD34<tspan dy="-3.5" font-size="5.5">hi</tspan><tspan dy="3.5">CD45RA<tspan dy="-3.5" font-size="5.5">lo</tspan><tspan dy="3.5">CD90<tspan dy="-3.5" font-size="5.5">hi</tspan><tspan dy="3.5">EPCR<tspan dy="-3.5" font-size="5.5">hi</tspan><tspan dy="3.5"><tspan fill="#c8102e">CD71<tspan dy="-3.5" font-size="5.5">lo</tspan><tspan dy="3.5"></tspan></tspan></tspan></tspan></tspan></tspan></text>
<text x="453.1" y="577.7" font-size="7" textLength="19.6" lengthAdjust="spacingAndGlyphs" fill="#1b4f8e" >DMSO</text>
<text x="453.1" y="587.7" font-size="7" textLength="19.8" lengthAdjust="spacingAndGlyphs" fill="#c8102e" >UM171</text>
<line x1="357" y1="648.5" x2="361.3" y2="648.5" stroke="#231f20" stroke-width="0.8"/>
<text x="355.7" y="650.8000000000001" font-size="7.2" textLength="3.8" lengthAdjust="spacingAndGlyphs" text-anchor="end" fill="#231f20" >0</text>
<line x1="357" y1="637.5" x2="361.3" y2="637.5" stroke="#231f20" stroke-width="0.8"/>
<text x="355.7" y="639.6" font-size="7.2" textLength="7.7" lengthAdjust="spacingAndGlyphs" text-anchor="end" fill="#231f20" >10</text>
<line x1="357" y1="625.5" x2="361.3" y2="625.5" stroke="#231f20" stroke-width="0.8"/>
<text x="355.7" y="628.4000000000001" font-size="7.2" textLength="7.7" lengthAdjust="spacingAndGlyphs" text-anchor="end" fill="#231f20" >20</text>
<line x1="357" y1="614.5" x2="361.3" y2="614.5" stroke="#231f20" stroke-width="0.8"/>
<text x="355.7" y="617.2" font-size="7.2" textLength="7.7" lengthAdjust="spacingAndGlyphs" text-anchor="end" fill="#231f20" >30</text>
<line x1="357" y1="603.5" x2="361.3" y2="603.5" stroke="#231f20" stroke-width="0.8"/>
<text x="355.7" y="606.0000000000001" font-size="7.2" textLength="7.7" lengthAdjust="spacingAndGlyphs" text-anchor="end" fill="#231f20" >40</text>
<line x1="357" y1="592.5" x2="361.3" y2="592.5" stroke="#231f20" stroke-width="0.8"/>
<text x="355.7" y="594.8000000000001" font-size="7.2" textLength="7.7" lengthAdjust="spacingAndGlyphs" text-anchor="end" fill="#231f20" >50</text>
<line x1="357" y1="581.5" x2="361.3" y2="581.5" stroke="#231f20" stroke-width="0.8"/>
<text x="355.7" y="583.6" font-size="7.2" textLength="7.7" lengthAdjust="spacingAndGlyphs" text-anchor="end" fill="#231f20" >60</text>
<line x1="357" y1="569.5" x2="361.3" y2="569.5" stroke="#231f20" stroke-width="0.8"/>
<text x="355.7" y="572.4000000000001" font-size="7.2" textLength="7.7" lengthAdjust="spacingAndGlyphs" text-anchor="end" fill="#231f20" >70</text>
<line x1="361.5" y1="562.7" x2="361.5" y2="648.6" stroke="#231f20" stroke-width="1"/>
<line x1="360.8" y1="648.5" x2="476.7" y2="648.5" stroke="#231f20" stroke-width="1"/>
<line x1="382.6" y1="648.4" x2="382.6" y2="651.5" stroke="#231f20" stroke-width="0.9"/>
<line x1="420.3" y1="648.4" x2="420.3" y2="651.5" stroke="#231f20" stroke-width="0.9"/>
<line x1="457.3" y1="648.4" x2="457.3" y2="651.5" stroke="#231f20" stroke-width="0.9"/>
<text transform="translate(331.8,632.8) rotate(-90)" font-size="9.4" textLength="55.2" lengthAdjust="spacingAndGlyphs" fill="#333" >Cell count (x10<tspan dy="-3.5" font-size="5">3</tspan><tspan dy="3.5">)/</tspan></text>
<text transform="translate(341.7,642.3) rotate(-90)" font-size="9.4" textLength="74.8" lengthAdjust="spacingAndGlyphs" fill="#333" >10000 cells plated at d0</text>
<rect x="371.2" y="644.84" width="11.400000000000034" height="3.3600000000000136" fill="#1b4f8e"/>
<line x1="376.9" y1="644.392" x2="376.9" y2="645.288" stroke="#333" stroke-width="0.8"/>
<line x1="375.4" y1="644.392" x2="378.4" y2="644.392" stroke="#333" stroke-width="0.8"/>
<rect x="382.6" y="598.9200000000001" width="11.699999999999989" height="49.27999999999997" fill="#c8102e"/>
<line x1="388.45000000000005" y1="594.44" x2="388.45000000000005" y2="603.4000000000001" stroke="#333" stroke-width="0.8"/>
<line x1="386.95000000000005" y1="594.44" x2="389.95000000000005" y2="594.44" stroke="#333" stroke-width="0.8"/>
<rect x="408.5" y="641.48" width="11.800000000000011" height="6.720000000000027" fill="#1b4f8e"/>
<line x1="414.4" y1="638.12" x2="414.4" y2="644.84" stroke="#333" stroke-width="0.8"/>
<line x1="412.9" y1="638.12" x2="415.9" y2="638.12" stroke="#333" stroke-width="0.8"/>
<rect x="420.3" y="575.4000000000001" width="11.399999999999977" height="72.79999999999995" fill="#c8102e"/>
<line x1="426.0" y1="570.9200000000001" x2="426.0" y2="579.88" stroke="#333" stroke-width="0.8"/>
<line x1="424.5" y1="570.9200000000001" x2="427.5" y2="570.9200000000001" stroke="#333" stroke-width="0.8"/>
<rect x="445" y="647.528" width="11" height="0.6720000000000255" fill="#1b4f8e"/>
<line x1="450.5" y1="647.192" x2="450.5" y2="647.864" stroke="#333" stroke-width="0.8"/>
<line x1="449.0" y1="647.192" x2="452.0" y2="647.192" stroke="#333" stroke-width="0.8"/>
<rect x="458.7" y="642.8240000000001" width="11.100000000000023" height="5.375999999999976" fill="#c8102e"/>
<line x1="464.25" y1="641.144" x2="464.25" y2="644.504" stroke="#333" stroke-width="0.8"/>
<line x1="462.75" y1="641.144" x2="465.75" y2="641.144" stroke="#333" stroke-width="0.8"/>
<line x1="373.5" y1="588.5" x2="387.3" y2="588.5" stroke="#777" stroke-width="0.9"/>
<text x="380.4" y="589.1999999999999" font-size="8" textLength="11.5" lengthAdjust="spacingAndGlyphs" text-anchor="middle" fill="#231f20" >***</text>
<line x1="409.5" y1="567.5" x2="424.5" y2="567.5" stroke="#777" stroke-width="0.9"/>
<text x="417.0" y="568.3" font-size="8" textLength="11.5" lengthAdjust="spacingAndGlyphs" text-anchor="middle" fill="#231f20" >***</text>
<line x1="450.8" y1="634.5" x2="468.8" y2="634.5" stroke="#777" stroke-width="0.9"/>
<text x="459.8" y="635.8" font-size="8" textLength="7.5" lengthAdjust="spacingAndGlyphs" text-anchor="middle" fill="#231f20" >**</text>
<text x="374.6" y="662.6" font-size="7.5" textLength="16.6" lengthAdjust="spacingAndGlyphs" fill="#231f20" >Total</text>
<text x="409.2" y="662.6" font-size="7.5" textLength="22.5" lengthAdjust="spacingAndGlyphs" fill="#231f20" >CD71<tspan dy="-3" font-size="4.5">lo</tspan><tspan dy="3"></tspan></text>
<text x="447.3" y="662.6" font-size="7.5" textLength="22.5" lengthAdjust="spacingAndGlyphs" fill="#231f20" >CD71<tspan dy="-3" font-size="4.5">hi</tspan><tspan dy="3"></tspan></text>
<rect x="0.5" y="0.5" width="519" height="668" fill="none" stroke="#4a4a4a" stroke-width="1.2"/>
</svg>
</body></html>
